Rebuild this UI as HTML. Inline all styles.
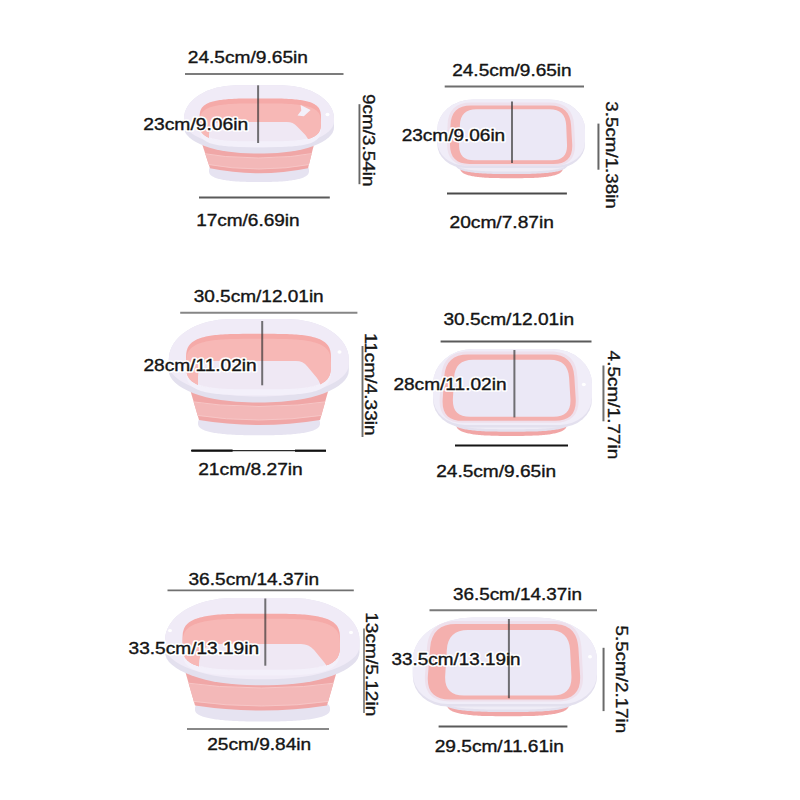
<!DOCTYPE html><html><head><meta charset="utf-8"><style>html,body{margin:0;padding:0;background:#fff;}svg{display:block;}</style></head><body>
<svg width="800" height="800" viewBox="0 0 800 800">
<rect width="800" height="800" fill="#ffffff"/>
<path d="M309.0,170.7 L309.0,171.4 L308.9,172.0 L308.8,172.5 L308.7,172.9 L308.5,173.4 L308.3,173.8 L308.1,174.2 L307.8,174.5 L307.5,174.9 L307.1,175.2 L306.7,175.6 L306.3,175.9 L305.8,176.2 L305.3,176.5 L304.8,176.8 L304.2,177.1 L303.6,177.4 L302.9,177.7 L302.2,177.9 L301.5,178.2 L300.7,178.4 L299.9,178.7 L299.1,178.9 L298.2,179.1 L297.3,179.3 L296.4,179.5 L295.4,179.7 L294.4,179.9 L293.3,180.1 L292.2,180.3 L291.1,180.5 L289.9,180.6 L288.7,180.8 L287.5,180.9 L286.2,181.0 L284.9,181.2 L283.6,181.3 L282.2,181.4 L280.7,181.5 L279.3,181.6 L277.7,181.7 L276.1,181.7 L274.5,181.8 L272.8,181.8 L271.0,181.9 L269.1,181.9 L267.1,182.0 L264.9,182.0 L262.5,182.0 L259.0,182.0 L255.5,182.0 L253.1,182.0 L250.9,182.0 L248.9,181.9 L247.0,181.9 L245.2,181.8 L243.5,181.8 L241.9,181.7 L240.3,181.7 L238.7,181.6 L237.3,181.5 L235.8,181.4 L234.4,181.3 L233.1,181.2 L231.8,181.0 L230.5,180.9 L229.3,180.8 L228.1,180.6 L226.9,180.5 L225.8,180.3 L224.7,180.1 L223.6,179.9 L222.6,179.7 L221.6,179.5 L220.7,179.3 L219.8,179.1 L218.9,178.9 L218.1,178.7 L217.3,178.4 L216.5,178.2 L215.8,177.9 L215.1,177.7 L214.4,177.4 L213.8,177.1 L213.2,176.8 L212.7,176.5 L212.2,176.2 L211.7,175.9 L211.3,175.6 L210.9,175.2 L210.5,174.9 L210.2,174.5 L209.9,174.2 L209.7,173.8 L209.5,173.4 L209.3,172.9 L209.2,172.5 L209.1,172.0 L209.0,171.4 L209.0,170.7 L209.0,169.9 L209.1,169.3 L209.2,168.8 L209.3,168.4 L209.5,167.9 L209.7,167.5 L209.9,167.1 L210.2,166.8 L210.5,166.4 L210.9,166.1 L211.3,165.7 L211.7,165.4 L212.2,165.1 L212.7,164.8 L213.2,164.5 L213.8,164.2 L214.4,163.9 L215.1,163.6 L215.8,163.4 L216.5,163.1 L217.3,162.9 L218.1,162.6 L218.9,162.4 L219.8,162.2 L220.7,162.0 L221.6,161.8 L222.6,161.6 L223.6,161.4 L224.7,161.2 L225.8,161.0 L226.9,160.8 L228.1,160.7 L229.3,160.5 L230.5,160.4 L231.8,160.3 L233.1,160.1 L234.4,160.0 L235.8,159.9 L237.3,159.8 L238.7,159.7 L240.3,159.6 L241.9,159.6 L243.5,159.5 L245.2,159.5 L247.0,159.4 L248.9,159.4 L250.9,159.3 L253.1,159.3 L255.5,159.3 L259.0,159.3 L262.5,159.3 L264.9,159.3 L267.1,159.3 L269.1,159.4 L271.0,159.4 L272.8,159.5 L274.5,159.5 L276.1,159.6 L277.7,159.6 L279.3,159.7 L280.7,159.8 L282.2,159.9 L283.6,160.0 L284.9,160.1 L286.2,160.3 L287.5,160.4 L288.7,160.5 L289.9,160.7 L291.1,160.8 L292.2,161.0 L293.3,161.2 L294.4,161.4 L295.4,161.6 L296.4,161.8 L297.3,162.0 L298.2,162.2 L299.1,162.4 L299.9,162.6 L300.7,162.9 L301.5,163.1 L302.2,163.4 L302.9,163.6 L303.6,163.9 L304.2,164.2 L304.8,164.5 L305.3,164.8 L305.8,165.1 L306.3,165.4 L306.7,165.7 L307.1,166.1 L307.5,166.4 L307.8,166.8 L308.1,167.1 L308.3,167.5 L308.5,167.9 L308.7,168.4 L308.8,168.8 L308.9,169.3 L309.0,169.9 Z" fill="#e6e3f1"/>
<path d="M197,128.5 L318,128.5 L308,168.3 Q259.0,178.3 210,168.3 Z" fill="#f0a7a7"/>
<clipPath id="b1"><path d="M197,128.5 L318,128.5 L308,168.3 Q259.0,178.3 210,168.3 Z"/></clipPath>
<path d="M192,152 Q259.0,164 323,152 L313,164 Q259.0,174 205,164 Z" fill="#f3b8b8" clip-path="url(#b1)"/>
<path d="M192,152 Q259.0,164 323,152 M313,164 Q259.0,174 205,164" fill="none" stroke="#f6c6c6" stroke-width="1" clip-path="url(#b1)"/>
<path d="M236,85.3 L282,85.3 A52,33 0 0 1 334,118.3 L334,127.5 A70,26 0 0 1 264,153.5 L254,153.5 A70,26 0 0 1 184,127.5 L184,118.3 A52,33 0 0 1 236,85.3 Z" fill="#e3e0ee"/>
<path d="M236,85.3 L282,85.3 A52,33 0 0 1 334,118.3 L334,121.5 A70,26 0 0 1 264,147.5 L254,147.5 A70,26 0 0 1 184,121.5 L184,118.3 A52,33 0 0 1 236,85.3 Z" fill="#f0ebf7"/>
<path d="M321.0,125.2 L321.0,128.4 L320.9,129.9 L320.9,131.1 L320.7,132.1 L320.6,133.0 L320.4,133.8 L320.2,134.6 L319.9,135.3 L319.6,136.0 L319.3,136.6 L319.0,137.2 L318.6,137.7 L318.2,138.3 L317.7,138.8 L317.2,139.3 L316.7,139.7 L316.1,140.2 L315.5,140.6 L314.9,141.0 L314.3,141.4 L313.5,141.8 L312.8,142.2 L312.0,142.5 L311.2,142.9 L310.4,143.2 L309.5,143.5 L308.5,143.8 L307.6,144.1 L306.5,144.3 L305.5,144.6 L304.4,144.8 L303.2,145.0 L302.0,145.3 L300.7,145.5 L299.4,145.6 L298.1,145.8 L296.6,146.0 L295.1,146.1 L293.5,146.3 L291.9,146.4 L290.1,146.5 L288.3,146.6 L286.3,146.7 L284.2,146.8 L281.9,146.9 L279.4,146.9 L276.6,146.9 L273.3,147.0 L269.1,147.0 L260.3,147.0 L251.4,147.0 L247.2,147.0 L243.9,146.9 L241.1,146.9 L238.6,146.9 L236.3,146.8 L234.2,146.7 L232.2,146.6 L230.4,146.5 L228.6,146.4 L227.0,146.3 L225.4,146.1 L223.9,146.0 L222.4,145.8 L221.1,145.6 L219.8,145.5 L218.5,145.3 L217.3,145.0 L216.1,144.8 L215.0,144.6 L214.0,144.3 L212.9,144.1 L212.0,143.8 L211.0,143.5 L210.1,143.2 L209.3,142.9 L208.5,142.5 L207.7,142.2 L207.0,141.8 L206.2,141.4 L205.6,141.0 L205.0,140.6 L204.4,140.2 L203.8,139.7 L203.3,139.3 L202.8,138.8 L202.3,138.3 L201.9,137.7 L201.5,137.2 L201.2,136.6 L200.9,136.0 L200.6,135.3 L200.3,134.6 L200.1,133.8 L199.9,133.0 L199.8,132.1 L199.6,131.1 L199.6,129.9 L199.5,128.4 L199.5,125.3 L199.5,122.1 L199.6,120.6 L199.6,119.4 L199.8,118.4 L199.9,117.5 L200.1,116.7 L200.3,115.9 L200.6,115.2 L200.9,114.5 L201.2,113.9 L201.5,113.3 L201.9,112.8 L202.3,112.2 L202.8,111.7 L203.3,111.2 L203.8,110.8 L204.4,110.3 L205.0,109.9 L205.6,109.5 L206.2,109.1 L207.0,108.7 L207.7,108.3 L208.5,108.0 L209.3,107.6 L210.1,107.3 L211.0,107.0 L212.0,106.7 L212.9,106.4 L214.0,106.2 L215.0,105.9 L216.1,105.7 L217.3,105.5 L218.5,105.2 L219.8,105.0 L221.1,104.9 L222.4,104.7 L223.9,104.5 L225.4,104.4 L227.0,104.2 L228.6,104.1 L230.4,104.0 L232.2,103.9 L234.2,103.8 L236.3,103.7 L238.6,103.6 L241.1,103.6 L243.9,103.6 L247.2,103.5 L251.4,103.5 L260.2,103.5 L269.1,103.5 L273.3,103.5 L276.6,103.6 L279.4,103.6 L281.9,103.6 L284.2,103.7 L286.3,103.8 L288.3,103.9 L290.1,104.0 L291.9,104.1 L293.5,104.2 L295.1,104.4 L296.6,104.5 L298.1,104.7 L299.4,104.9 L300.7,105.0 L302.0,105.2 L303.2,105.5 L304.4,105.7 L305.5,105.9 L306.5,106.2 L307.6,106.4 L308.5,106.7 L309.5,107.0 L310.4,107.3 L311.2,107.6 L312.0,108.0 L312.8,108.3 L313.5,108.7 L314.3,109.1 L314.9,109.5 L315.5,109.9 L316.1,110.3 L316.7,110.8 L317.2,111.2 L317.7,111.7 L318.2,112.2 L318.6,112.8 L319.0,113.3 L319.3,113.9 L319.6,114.5 L319.9,115.2 L320.2,115.9 L320.4,116.7 L320.6,117.5 L320.7,118.4 L320.9,119.4 L320.9,120.6 L321.0,122.1 Z" fill="#f3f0fa"/>
<clipPath id="c2"><path d="M321.0,120.2 L321.0,123.4 L320.9,124.9 L320.9,126.1 L320.7,127.1 L320.6,128.0 L320.4,128.8 L320.2,129.6 L319.9,130.3 L319.6,131.0 L319.3,131.6 L319.0,132.2 L318.6,132.7 L318.2,133.3 L317.7,133.8 L317.2,134.3 L316.7,134.7 L316.1,135.2 L315.5,135.6 L314.9,136.0 L314.3,136.4 L313.5,136.8 L312.8,137.2 L312.0,137.5 L311.2,137.9 L310.4,138.2 L309.5,138.5 L308.5,138.8 L307.6,139.1 L306.5,139.3 L305.5,139.6 L304.4,139.8 L303.2,140.0 L302.0,140.3 L300.7,140.5 L299.4,140.6 L298.1,140.8 L296.6,141.0 L295.1,141.1 L293.5,141.3 L291.9,141.4 L290.1,141.5 L288.3,141.6 L286.3,141.7 L284.2,141.8 L281.9,141.9 L279.4,141.9 L276.6,141.9 L273.3,142.0 L269.1,142.0 L260.3,142.0 L251.4,142.0 L247.2,142.0 L243.9,141.9 L241.1,141.9 L238.6,141.9 L236.3,141.8 L234.2,141.7 L232.2,141.6 L230.4,141.5 L228.6,141.4 L227.0,141.3 L225.4,141.1 L223.9,141.0 L222.4,140.8 L221.1,140.6 L219.8,140.5 L218.5,140.3 L217.3,140.0 L216.1,139.8 L215.0,139.6 L214.0,139.3 L212.9,139.1 L212.0,138.8 L211.0,138.5 L210.1,138.2 L209.3,137.9 L208.5,137.5 L207.7,137.2 L207.0,136.8 L206.2,136.4 L205.6,136.0 L205.0,135.6 L204.4,135.2 L203.8,134.7 L203.3,134.3 L202.8,133.8 L202.3,133.3 L201.9,132.7 L201.5,132.2 L201.2,131.6 L200.9,131.0 L200.6,130.3 L200.3,129.6 L200.1,128.8 L199.9,128.0 L199.8,127.1 L199.6,126.1 L199.6,124.9 L199.5,123.4 L199.5,120.3 L199.5,117.1 L199.6,115.6 L199.6,114.4 L199.8,113.4 L199.9,112.5 L200.1,111.7 L200.3,110.9 L200.6,110.2 L200.9,109.5 L201.2,108.9 L201.5,108.3 L201.9,107.8 L202.3,107.2 L202.8,106.7 L203.3,106.2 L203.8,105.8 L204.4,105.3 L205.0,104.9 L205.6,104.5 L206.2,104.1 L207.0,103.7 L207.7,103.3 L208.5,103.0 L209.3,102.6 L210.1,102.3 L211.0,102.0 L212.0,101.7 L212.9,101.4 L214.0,101.2 L215.0,100.9 L216.1,100.7 L217.3,100.5 L218.5,100.2 L219.8,100.0 L221.1,99.9 L222.4,99.7 L223.9,99.5 L225.4,99.4 L227.0,99.2 L228.6,99.1 L230.4,99.0 L232.2,98.9 L234.2,98.8 L236.3,98.7 L238.6,98.6 L241.1,98.6 L243.9,98.6 L247.2,98.5 L251.4,98.5 L260.2,98.5 L269.1,98.5 L273.3,98.5 L276.6,98.6 L279.4,98.6 L281.9,98.6 L284.2,98.7 L286.3,98.8 L288.3,98.9 L290.1,99.0 L291.9,99.1 L293.5,99.2 L295.1,99.4 L296.6,99.5 L298.1,99.7 L299.4,99.9 L300.7,100.0 L302.0,100.2 L303.2,100.5 L304.4,100.7 L305.5,100.9 L306.5,101.2 L307.6,101.4 L308.5,101.7 L309.5,102.0 L310.4,102.3 L311.2,102.6 L312.0,103.0 L312.8,103.3 L313.5,103.7 L314.3,104.1 L314.9,104.5 L315.5,104.9 L316.1,105.3 L316.7,105.8 L317.2,106.2 L317.7,106.7 L318.2,107.2 L318.6,107.8 L319.0,108.3 L319.3,108.9 L319.6,109.5 L319.9,110.2 L320.2,110.9 L320.4,111.7 L320.6,112.5 L320.7,113.4 L320.9,114.4 L320.9,115.6 L321.0,117.1 Z"/></clipPath>
<path d="M321.0,120.2 L321.0,123.4 L320.9,124.9 L320.9,126.1 L320.7,127.1 L320.6,128.0 L320.4,128.8 L320.2,129.6 L319.9,130.3 L319.6,131.0 L319.3,131.6 L319.0,132.2 L318.6,132.7 L318.2,133.3 L317.7,133.8 L317.2,134.3 L316.7,134.7 L316.1,135.2 L315.5,135.6 L314.9,136.0 L314.3,136.4 L313.5,136.8 L312.8,137.2 L312.0,137.5 L311.2,137.9 L310.4,138.2 L309.5,138.5 L308.5,138.8 L307.6,139.1 L306.5,139.3 L305.5,139.6 L304.4,139.8 L303.2,140.0 L302.0,140.3 L300.7,140.5 L299.4,140.6 L298.1,140.8 L296.6,141.0 L295.1,141.1 L293.5,141.3 L291.9,141.4 L290.1,141.5 L288.3,141.6 L286.3,141.7 L284.2,141.8 L281.9,141.9 L279.4,141.9 L276.6,141.9 L273.3,142.0 L269.1,142.0 L260.3,142.0 L251.4,142.0 L247.2,142.0 L243.9,141.9 L241.1,141.9 L238.6,141.9 L236.3,141.8 L234.2,141.7 L232.2,141.6 L230.4,141.5 L228.6,141.4 L227.0,141.3 L225.4,141.1 L223.9,141.0 L222.4,140.8 L221.1,140.6 L219.8,140.5 L218.5,140.3 L217.3,140.0 L216.1,139.8 L215.0,139.6 L214.0,139.3 L212.9,139.1 L212.0,138.8 L211.0,138.5 L210.1,138.2 L209.3,137.9 L208.5,137.5 L207.7,137.2 L207.0,136.8 L206.2,136.4 L205.6,136.0 L205.0,135.6 L204.4,135.2 L203.8,134.7 L203.3,134.3 L202.8,133.8 L202.3,133.3 L201.9,132.7 L201.5,132.2 L201.2,131.6 L200.9,131.0 L200.6,130.3 L200.3,129.6 L200.1,128.8 L199.9,128.0 L199.8,127.1 L199.6,126.1 L199.6,124.9 L199.5,123.4 L199.5,120.3 L199.5,117.1 L199.6,115.6 L199.6,114.4 L199.8,113.4 L199.9,112.5 L200.1,111.7 L200.3,110.9 L200.6,110.2 L200.9,109.5 L201.2,108.9 L201.5,108.3 L201.9,107.8 L202.3,107.2 L202.8,106.7 L203.3,106.2 L203.8,105.8 L204.4,105.3 L205.0,104.9 L205.6,104.5 L206.2,104.1 L207.0,103.7 L207.7,103.3 L208.5,103.0 L209.3,102.6 L210.1,102.3 L211.0,102.0 L212.0,101.7 L212.9,101.4 L214.0,101.2 L215.0,100.9 L216.1,100.7 L217.3,100.5 L218.5,100.2 L219.8,100.0 L221.1,99.9 L222.4,99.7 L223.9,99.5 L225.4,99.4 L227.0,99.2 L228.6,99.1 L230.4,99.0 L232.2,98.9 L234.2,98.8 L236.3,98.7 L238.6,98.6 L241.1,98.6 L243.9,98.6 L247.2,98.5 L251.4,98.5 L260.2,98.5 L269.1,98.5 L273.3,98.5 L276.6,98.6 L279.4,98.6 L281.9,98.6 L284.2,98.7 L286.3,98.8 L288.3,98.9 L290.1,99.0 L291.9,99.1 L293.5,99.2 L295.1,99.4 L296.6,99.5 L298.1,99.7 L299.4,99.9 L300.7,100.0 L302.0,100.2 L303.2,100.5 L304.4,100.7 L305.5,100.9 L306.5,101.2 L307.6,101.4 L308.5,101.7 L309.5,102.0 L310.4,102.3 L311.2,102.6 L312.0,103.0 L312.8,103.3 L313.5,103.7 L314.3,104.1 L314.9,104.5 L315.5,104.9 L316.1,105.3 L316.7,105.8 L317.2,106.2 L317.7,106.7 L318.2,107.2 L318.6,107.8 L319.0,108.3 L319.3,108.9 L319.6,109.5 L319.9,110.2 L320.2,110.9 L320.4,111.7 L320.6,112.5 L320.7,113.4 L320.9,114.4 L320.9,115.6 L321.0,117.1 Z" fill="#f5aaa8"/>
<path d="M321.0,125.2 L321.0,128.4 L320.9,129.9 L320.9,131.1 L320.7,132.1 L320.6,133.0 L320.4,133.8 L320.2,134.6 L319.9,135.3 L319.6,136.0 L319.3,136.6 L319.0,137.2 L318.6,137.7 L318.2,138.3 L317.7,138.8 L317.2,139.3 L316.7,139.7 L316.1,140.2 L315.5,140.6 L314.9,141.0 L314.3,141.4 L313.5,141.8 L312.8,142.2 L312.0,142.5 L311.2,142.9 L310.4,143.2 L309.5,143.5 L308.5,143.8 L307.6,144.1 L306.5,144.3 L305.5,144.6 L304.4,144.8 L303.2,145.0 L302.0,145.3 L300.7,145.5 L299.4,145.6 L298.1,145.8 L296.6,146.0 L295.1,146.1 L293.5,146.3 L291.9,146.4 L290.1,146.5 L288.3,146.6 L286.3,146.7 L284.2,146.8 L281.9,146.9 L279.4,146.9 L276.6,146.9 L273.3,147.0 L269.1,147.0 L260.3,147.0 L251.4,147.0 L247.2,147.0 L243.9,146.9 L241.1,146.9 L238.6,146.9 L236.3,146.8 L234.2,146.7 L232.2,146.6 L230.4,146.5 L228.6,146.4 L227.0,146.3 L225.4,146.1 L223.9,146.0 L222.4,145.8 L221.1,145.6 L219.8,145.5 L218.5,145.3 L217.3,145.0 L216.1,144.8 L215.0,144.6 L214.0,144.3 L212.9,144.1 L212.0,143.8 L211.0,143.5 L210.1,143.2 L209.3,142.9 L208.5,142.5 L207.7,142.2 L207.0,141.8 L206.2,141.4 L205.6,141.0 L205.0,140.6 L204.4,140.2 L203.8,139.7 L203.3,139.3 L202.8,138.8 L202.3,138.3 L201.9,137.7 L201.5,137.2 L201.2,136.6 L200.9,136.0 L200.6,135.3 L200.3,134.6 L200.1,133.8 L199.9,133.0 L199.8,132.1 L199.6,131.1 L199.6,129.9 L199.5,128.4 L199.5,125.3 L199.5,122.1 L199.6,120.6 L199.6,119.4 L199.8,118.4 L199.9,117.5 L200.1,116.7 L200.3,115.9 L200.6,115.2 L200.9,114.5 L201.2,113.9 L201.5,113.3 L201.9,112.8 L202.3,112.2 L202.8,111.7 L203.3,111.2 L203.8,110.8 L204.4,110.3 L205.0,109.9 L205.6,109.5 L206.2,109.1 L207.0,108.7 L207.7,108.3 L208.5,108.0 L209.3,107.6 L210.1,107.3 L211.0,107.0 L212.0,106.7 L212.9,106.4 L214.0,106.2 L215.0,105.9 L216.1,105.7 L217.3,105.5 L218.5,105.2 L219.8,105.0 L221.1,104.9 L222.4,104.7 L223.9,104.5 L225.4,104.4 L227.0,104.2 L228.6,104.1 L230.4,104.0 L232.2,103.9 L234.2,103.8 L236.3,103.7 L238.6,103.6 L241.1,103.6 L243.9,103.6 L247.2,103.5 L251.4,103.5 L260.2,103.5 L269.1,103.5 L273.3,103.5 L276.6,103.6 L279.4,103.6 L281.9,103.6 L284.2,103.7 L286.3,103.8 L288.3,103.9 L290.1,104.0 L291.9,104.1 L293.5,104.2 L295.1,104.4 L296.6,104.5 L298.1,104.7 L299.4,104.9 L300.7,105.0 L302.0,105.2 L303.2,105.5 L304.4,105.7 L305.5,105.9 L306.5,106.2 L307.6,106.4 L308.5,106.7 L309.5,107.0 L310.4,107.3 L311.2,107.6 L312.0,108.0 L312.8,108.3 L313.5,108.7 L314.3,109.1 L314.9,109.5 L315.5,109.9 L316.1,110.3 L316.7,110.8 L317.2,111.2 L317.7,111.7 L318.2,112.2 L318.6,112.8 L319.0,113.3 L319.3,113.9 L319.6,114.5 L319.9,115.2 L320.2,115.9 L320.4,116.7 L320.6,117.5 L320.7,118.4 L320.9,119.4 L320.9,120.6 L321.0,122.1 Z" fill="#f7b8b6" clip-path="url(#c2)"/>
<path d="M212.5,125.5 C214.8,123.2 218.0,122.0 222.0,122.0 L287.0,122.0 C291.0,122.0 294.4,123.5 297.1,126.4 L304.9,134.6 C307.6,137.5 309.0,141.0 309.0,145.0 L309.0,146.0 C309.0,150.0 307.0,152.0 303.0,152.0 L215.0,152.0 C211.0,152.0 209.0,150.0 209.0,146.0 L209.0,135.0 C209.0,131.0 210.2,127.8 212.5,125.5 Z" fill="#efe8f4" clip-path="url(#c2)"/>
<clipPath id="fc2"><path d="M212.5,125.5 C214.8,123.2 218.0,122.0 222.0,122.0 L287.0,122.0 C291.0,122.0 294.4,123.5 297.1,126.4 L304.9,134.6 C307.6,137.5 309.0,141.0 309.0,145.0 L309.0,146.0 C309.0,150.0 307.0,152.0 303.0,152.0 L215.0,152.0 C211.0,152.0 209.0,150.0 209.0,146.0 L209.0,135.0 C209.0,131.0 210.2,127.8 212.5,125.5 Z"/></clipPath>
<path d="M321.0,120.2 L321.0,123.4 L320.9,124.9 L320.9,126.1 L320.7,127.1 L320.6,128.0 L320.4,128.8 L320.2,129.6 L319.9,130.3 L319.6,131.0 L319.3,131.6 L319.0,132.2 L318.6,132.7 L318.2,133.3 L317.7,133.8 L317.2,134.3 L316.7,134.7 L316.1,135.2 L315.5,135.6 L314.9,136.0 L314.3,136.4 L313.5,136.8 L312.8,137.2 L312.0,137.5 L311.2,137.9 L310.4,138.2 L309.5,138.5 L308.5,138.8 L307.6,139.1 L306.5,139.3 L305.5,139.6 L304.4,139.8 L303.2,140.0 L302.0,140.3 L300.7,140.5 L299.4,140.6 L298.1,140.8 L296.6,141.0 L295.1,141.1 L293.5,141.3 L291.9,141.4 L290.1,141.5 L288.3,141.6 L286.3,141.7 L284.2,141.8 L281.9,141.9 L279.4,141.9 L276.6,141.9 L273.3,142.0 L269.1,142.0 L260.3,142.0 L251.4,142.0 L247.2,142.0 L243.9,141.9 L241.1,141.9 L238.6,141.9 L236.3,141.8 L234.2,141.7 L232.2,141.6 L230.4,141.5 L228.6,141.4 L227.0,141.3 L225.4,141.1 L223.9,141.0 L222.4,140.8 L221.1,140.6 L219.8,140.5 L218.5,140.3 L217.3,140.0 L216.1,139.8 L215.0,139.6 L214.0,139.3 L212.9,139.1 L212.0,138.8 L211.0,138.5 L210.1,138.2 L209.3,137.9 L208.5,137.5 L207.7,137.2 L207.0,136.8 L206.2,136.4 L205.6,136.0 L205.0,135.6 L204.4,135.2 L203.8,134.7 L203.3,134.3 L202.8,133.8 L202.3,133.3 L201.9,132.7 L201.5,132.2 L201.2,131.6 L200.9,131.0 L200.6,130.3 L200.3,129.6 L200.1,128.8 L199.9,128.0 L199.8,127.1 L199.6,126.1 L199.6,124.9 L199.5,123.4 L199.5,120.3 L199.5,117.1 L199.6,115.6 L199.6,114.4 L199.8,113.4 L199.9,112.5 L200.1,111.7 L200.3,110.9 L200.6,110.2 L200.9,109.5 L201.2,108.9 L201.5,108.3 L201.9,107.8 L202.3,107.2 L202.8,106.7 L203.3,106.2 L203.8,105.8 L204.4,105.3 L205.0,104.9 L205.6,104.5 L206.2,104.1 L207.0,103.7 L207.7,103.3 L208.5,103.0 L209.3,102.6 L210.1,102.3 L211.0,102.0 L212.0,101.7 L212.9,101.4 L214.0,101.2 L215.0,100.9 L216.1,100.7 L217.3,100.5 L218.5,100.2 L219.8,100.0 L221.1,99.9 L222.4,99.7 L223.9,99.5 L225.4,99.4 L227.0,99.2 L228.6,99.1 L230.4,99.0 L232.2,98.9 L234.2,98.8 L236.3,98.7 L238.6,98.6 L241.1,98.6 L243.9,98.6 L247.2,98.5 L251.4,98.5 L260.2,98.5 L269.1,98.5 L273.3,98.5 L276.6,98.6 L279.4,98.6 L281.9,98.6 L284.2,98.7 L286.3,98.8 L288.3,98.9 L290.1,99.0 L291.9,99.1 L293.5,99.2 L295.1,99.4 L296.6,99.5 L298.1,99.7 L299.4,99.9 L300.7,100.0 L302.0,100.2 L303.2,100.5 L304.4,100.7 L305.5,100.9 L306.5,101.2 L307.6,101.4 L308.5,101.7 L309.5,102.0 L310.4,102.3 L311.2,102.6 L312.0,103.0 L312.8,103.3 L313.5,103.7 L314.3,104.1 L314.9,104.5 L315.5,104.9 L316.1,105.3 L316.7,105.8 L317.2,106.2 L317.7,106.7 L318.2,107.2 L318.6,107.8 L319.0,108.3 L319.3,108.9 L319.6,109.5 L319.9,110.2 L320.2,110.9 L320.4,111.7 L320.6,112.5 L320.7,113.4 L320.9,114.4 L320.9,115.6 L321.0,117.1 Z" fill="none" stroke="#f3f0fa" stroke-width="1.4" clip-path="url(#fc2)"/>
<path d="M300.6,105 L310.6,110 L303.8,116.3 L297.5,115.6 L301.3,110.6 Z" fill="#f3f0fa" clip-path="url(#c2)"/>
<path d="M320.0,423.1 L320.0,424.0 L319.9,424.6 L319.8,425.1 L319.6,425.6 L319.4,426.1 L319.2,426.5 L318.9,426.9 L318.5,427.3 L318.1,427.7 L317.7,428.1 L317.2,428.4 L316.7,428.8 L316.1,429.1 L315.5,429.4 L314.8,429.8 L314.1,430.1 L313.4,430.4 L312.6,430.7 L311.7,431.0 L310.8,431.2 L309.9,431.5 L308.9,431.7 L307.9,432.0 L306.8,432.2 L305.7,432.5 L304.6,432.7 L303.4,432.9 L302.1,433.1 L300.9,433.3 L299.5,433.5 L298.2,433.6 L296.7,433.8 L295.3,434.0 L293.8,434.1 L292.2,434.3 L290.6,434.4 L289.0,434.5 L287.3,434.6 L285.5,434.7 L283.7,434.8 L281.8,434.9 L279.9,435.0 L277.9,435.1 L275.8,435.1 L273.6,435.2 L271.3,435.2 L268.9,435.3 L266.3,435.3 L263.3,435.3 L259.0,435.3 L254.7,435.3 L251.7,435.3 L249.1,435.3 L246.7,435.2 L244.4,435.2 L242.2,435.1 L240.1,435.1 L238.1,435.0 L236.2,434.9 L234.3,434.8 L232.5,434.7 L230.7,434.6 L229.0,434.5 L227.4,434.4 L225.8,434.3 L224.2,434.1 L222.7,434.0 L221.3,433.8 L219.8,433.6 L218.5,433.5 L217.1,433.3 L215.9,433.1 L214.6,432.9 L213.4,432.7 L212.3,432.5 L211.2,432.2 L210.1,432.0 L209.1,431.7 L208.1,431.5 L207.2,431.2 L206.3,431.0 L205.4,430.7 L204.6,430.4 L203.9,430.1 L203.2,429.8 L202.5,429.4 L201.9,429.1 L201.3,428.8 L200.8,428.4 L200.3,428.1 L199.9,427.7 L199.5,427.3 L199.1,426.9 L198.8,426.5 L198.6,426.1 L198.4,425.6 L198.2,425.1 L198.1,424.6 L198.0,424.0 L198.0,423.2 L198.0,422.3 L198.1,421.7 L198.2,421.2 L198.4,420.7 L198.6,420.2 L198.8,419.8 L199.1,419.4 L199.5,419.0 L199.9,418.6 L200.3,418.2 L200.8,417.9 L201.3,417.5 L201.9,417.2 L202.5,416.9 L203.2,416.5 L203.9,416.2 L204.6,415.9 L205.4,415.6 L206.3,415.3 L207.2,415.1 L208.1,414.8 L209.1,414.6 L210.1,414.3 L211.2,414.1 L212.3,413.8 L213.4,413.6 L214.6,413.4 L215.9,413.2 L217.1,413.0 L218.5,412.8 L219.8,412.7 L221.3,412.5 L222.7,412.3 L224.2,412.2 L225.8,412.0 L227.4,411.9 L229.0,411.8 L230.7,411.7 L232.5,411.6 L234.3,411.5 L236.2,411.4 L238.1,411.3 L240.1,411.2 L242.2,411.2 L244.4,411.1 L246.7,411.1 L249.1,411.0 L251.7,411.0 L254.7,411.0 L259.0,411.0 L263.3,411.0 L266.3,411.0 L268.9,411.0 L271.3,411.1 L273.6,411.1 L275.8,411.2 L277.9,411.2 L279.9,411.3 L281.8,411.4 L283.7,411.5 L285.5,411.6 L287.3,411.7 L289.0,411.8 L290.6,411.9 L292.2,412.0 L293.8,412.2 L295.3,412.3 L296.7,412.5 L298.2,412.7 L299.5,412.8 L300.9,413.0 L302.1,413.2 L303.4,413.4 L304.6,413.6 L305.7,413.8 L306.8,414.1 L307.9,414.3 L308.9,414.6 L309.9,414.8 L310.8,415.1 L311.7,415.3 L312.6,415.6 L313.4,415.9 L314.1,416.2 L314.8,416.5 L315.5,416.9 L316.1,417.2 L316.7,417.5 L317.2,417.9 L317.7,418.2 L318.1,418.6 L318.5,419.0 L318.9,419.4 L319.2,419.8 L319.4,420.2 L319.6,420.7 L319.8,421.2 L319.9,421.7 L320.0,422.3 Z" fill="#e6e3f1"/>
<path d="M186.5,377.5 L332,377.5 L320,420 Q258.8,430 199,420 Z" fill="#f0a7a7"/>
<clipPath id="b3"><path d="M186.5,377.5 L332,377.5 L320,420 Q258.8,430 199,420 Z"/></clipPath>
<path d="M181.5,400.5 Q258.8,412.5 337,400.5 L325,415 Q258.8,425 194,415 Z" fill="#f3b8b8" clip-path="url(#b3)"/>
<path d="M181.5,400.5 Q258.8,412.5 337,400.5 M325,415 Q258.8,425 194,415" fill="none" stroke="#f6c6c6" stroke-width="1" clip-path="url(#b3)"/>
<path d="M230.8,319 L286.8,319 A62,40 0 0 1 348.8,359 L348.8,370.5 A84,32 0 0 1 264.8,402.5 L252.8,402.5 A84,32 0 0 1 168.8,370.5 L168.8,359 A62,40 0 0 1 230.8,319 Z" fill="#e3e0ee"/>
<path d="M230.8,319 L286.8,319 A62,40 0 0 1 348.8,359 L348.8,364.5 A84,32 0 0 1 264.8,396.5 L252.8,396.5 A84,32 0 0 1 168.8,364.5 L168.8,359 A62,40 0 0 1 230.8,319 Z" fill="#f0ebf7"/>
<path d="M331.0,366.9 L331.0,371.0 L330.9,372.9 L330.8,374.5 L330.7,375.8 L330.5,376.9 L330.3,378.0 L330.0,379.0 L329.7,379.9 L329.4,380.7 L329.0,381.5 L328.6,382.3 L328.1,383.0 L327.6,383.7 L327.1,384.4 L326.5,385.0 L325.9,385.6 L325.2,386.2 L324.5,386.8 L323.7,387.3 L322.9,387.8 L322.1,388.3 L321.2,388.8 L320.3,389.2 L319.3,389.7 L318.3,390.1 L317.2,390.5 L316.1,390.9 L315.0,391.2 L313.7,391.6 L312.5,391.9 L311.1,392.2 L309.8,392.5 L308.3,392.8 L306.8,393.0 L305.3,393.3 L303.6,393.5 L301.9,393.7 L300.1,393.9 L298.2,394.1 L296.3,394.2 L294.2,394.4 L292.0,394.5 L289.6,394.6 L287.1,394.7 L284.4,394.8 L281.4,394.9 L278.0,394.9 L274.1,395.0 L269.1,395.0 L258.5,395.0 L247.9,395.0 L242.9,395.0 L239.0,394.9 L235.6,394.9 L232.6,394.8 L229.9,394.7 L227.4,394.6 L225.0,394.5 L222.8,394.4 L220.7,394.2 L218.8,394.1 L216.9,393.9 L215.1,393.7 L213.4,393.5 L211.7,393.3 L210.2,393.0 L208.7,392.8 L207.2,392.5 L205.9,392.2 L204.5,391.9 L203.3,391.6 L202.0,391.2 L200.9,390.9 L199.8,390.5 L198.7,390.1 L197.7,389.7 L196.7,389.2 L195.8,388.8 L194.9,388.3 L194.1,387.8 L193.3,387.3 L192.5,386.8 L191.8,386.2 L191.1,385.6 L190.5,385.0 L189.9,384.4 L189.4,383.7 L188.9,383.0 L188.4,382.3 L188.0,381.5 L187.6,380.7 L187.3,379.9 L187.0,379.0 L186.7,378.0 L186.5,376.9 L186.3,375.8 L186.2,374.5 L186.1,372.9 L186.0,371.0 L186.0,366.9 L186.0,362.8 L186.1,360.9 L186.2,359.3 L186.3,358.0 L186.5,356.9 L186.7,355.8 L187.0,354.8 L187.3,353.9 L187.6,353.1 L188.0,352.3 L188.4,351.5 L188.9,350.8 L189.4,350.1 L189.9,349.4 L190.5,348.8 L191.1,348.2 L191.8,347.6 L192.5,347.0 L193.3,346.5 L194.1,346.0 L194.9,345.5 L195.8,345.0 L196.7,344.6 L197.7,344.1 L198.7,343.7 L199.8,343.3 L200.9,342.9 L202.0,342.6 L203.3,342.2 L204.5,341.9 L205.9,341.6 L207.2,341.3 L208.7,341.0 L210.2,340.8 L211.7,340.5 L213.4,340.3 L215.1,340.1 L216.9,339.9 L218.8,339.7 L220.7,339.6 L222.8,339.4 L225.0,339.3 L227.4,339.2 L229.9,339.1 L232.6,339.0 L235.6,338.9 L239.0,338.9 L242.9,338.8 L247.9,338.8 L258.5,338.8 L269.1,338.8 L274.1,338.8 L278.0,338.9 L281.4,338.9 L284.4,339.0 L287.1,339.1 L289.6,339.2 L292.0,339.3 L294.2,339.4 L296.3,339.6 L298.2,339.7 L300.1,339.9 L301.9,340.1 L303.6,340.3 L305.3,340.5 L306.8,340.8 L308.3,341.0 L309.8,341.3 L311.1,341.6 L312.5,341.9 L313.7,342.2 L315.0,342.6 L316.1,342.9 L317.2,343.3 L318.3,343.7 L319.3,344.1 L320.3,344.6 L321.2,345.0 L322.1,345.5 L322.9,346.0 L323.7,346.5 L324.5,347.0 L325.2,347.6 L325.9,348.2 L326.5,348.8 L327.1,349.4 L327.6,350.1 L328.1,350.8 L328.6,351.5 L329.0,352.3 L329.4,353.1 L329.7,353.9 L330.0,354.8 L330.3,355.8 L330.5,356.9 L330.7,358.0 L330.8,359.3 L330.9,360.9 L331.0,362.8 Z" fill="#f3f0fa"/>
<clipPath id="c4"><path d="M331.0,361.9 L331.0,366.0 L330.9,367.9 L330.8,369.5 L330.7,370.8 L330.5,371.9 L330.3,373.0 L330.0,374.0 L329.7,374.9 L329.4,375.7 L329.0,376.5 L328.6,377.3 L328.1,378.0 L327.6,378.7 L327.1,379.4 L326.5,380.0 L325.9,380.6 L325.2,381.2 L324.5,381.8 L323.7,382.3 L322.9,382.8 L322.1,383.3 L321.2,383.8 L320.3,384.2 L319.3,384.7 L318.3,385.1 L317.2,385.5 L316.1,385.9 L315.0,386.2 L313.7,386.6 L312.5,386.9 L311.1,387.2 L309.8,387.5 L308.3,387.8 L306.8,388.0 L305.3,388.3 L303.6,388.5 L301.9,388.7 L300.1,388.9 L298.2,389.1 L296.3,389.2 L294.2,389.4 L292.0,389.5 L289.6,389.6 L287.1,389.7 L284.4,389.8 L281.4,389.9 L278.0,389.9 L274.1,390.0 L269.1,390.0 L258.5,390.0 L247.9,390.0 L242.9,390.0 L239.0,389.9 L235.6,389.9 L232.6,389.8 L229.9,389.7 L227.4,389.6 L225.0,389.5 L222.8,389.4 L220.7,389.2 L218.8,389.1 L216.9,388.9 L215.1,388.7 L213.4,388.5 L211.7,388.3 L210.2,388.0 L208.7,387.8 L207.2,387.5 L205.9,387.2 L204.5,386.9 L203.3,386.6 L202.0,386.2 L200.9,385.9 L199.8,385.5 L198.7,385.1 L197.7,384.7 L196.7,384.2 L195.8,383.8 L194.9,383.3 L194.1,382.8 L193.3,382.3 L192.5,381.8 L191.8,381.2 L191.1,380.6 L190.5,380.0 L189.9,379.4 L189.4,378.7 L188.9,378.0 L188.4,377.3 L188.0,376.5 L187.6,375.7 L187.3,374.9 L187.0,374.0 L186.7,373.0 L186.5,371.9 L186.3,370.8 L186.2,369.5 L186.1,367.9 L186.0,366.0 L186.0,361.9 L186.0,357.8 L186.1,355.9 L186.2,354.3 L186.3,353.0 L186.5,351.9 L186.7,350.8 L187.0,349.8 L187.3,348.9 L187.6,348.1 L188.0,347.3 L188.4,346.5 L188.9,345.8 L189.4,345.1 L189.9,344.4 L190.5,343.8 L191.1,343.2 L191.8,342.6 L192.5,342.0 L193.3,341.5 L194.1,341.0 L194.9,340.5 L195.8,340.0 L196.7,339.6 L197.7,339.1 L198.7,338.7 L199.8,338.3 L200.9,337.9 L202.0,337.6 L203.3,337.2 L204.5,336.9 L205.9,336.6 L207.2,336.3 L208.7,336.0 L210.2,335.8 L211.7,335.5 L213.4,335.3 L215.1,335.1 L216.9,334.9 L218.8,334.7 L220.7,334.6 L222.8,334.4 L225.0,334.3 L227.4,334.2 L229.9,334.1 L232.6,334.0 L235.6,333.9 L239.0,333.9 L242.9,333.8 L247.9,333.8 L258.5,333.8 L269.1,333.8 L274.1,333.8 L278.0,333.9 L281.4,333.9 L284.4,334.0 L287.1,334.1 L289.6,334.2 L292.0,334.3 L294.2,334.4 L296.3,334.6 L298.2,334.7 L300.1,334.9 L301.9,335.1 L303.6,335.3 L305.3,335.5 L306.8,335.8 L308.3,336.0 L309.8,336.3 L311.1,336.6 L312.5,336.9 L313.7,337.2 L315.0,337.6 L316.1,337.9 L317.2,338.3 L318.3,338.7 L319.3,339.1 L320.3,339.6 L321.2,340.0 L322.1,340.5 L322.9,341.0 L323.7,341.5 L324.5,342.0 L325.2,342.6 L325.9,343.2 L326.5,343.8 L327.1,344.4 L327.6,345.1 L328.1,345.8 L328.6,346.5 L329.0,347.3 L329.4,348.1 L329.7,348.9 L330.0,349.8 L330.3,350.8 L330.5,351.9 L330.7,353.0 L330.8,354.3 L330.9,355.9 L331.0,357.8 Z"/></clipPath>
<path d="M331.0,361.9 L331.0,366.0 L330.9,367.9 L330.8,369.5 L330.7,370.8 L330.5,371.9 L330.3,373.0 L330.0,374.0 L329.7,374.9 L329.4,375.7 L329.0,376.5 L328.6,377.3 L328.1,378.0 L327.6,378.7 L327.1,379.4 L326.5,380.0 L325.9,380.6 L325.2,381.2 L324.5,381.8 L323.7,382.3 L322.9,382.8 L322.1,383.3 L321.2,383.8 L320.3,384.2 L319.3,384.7 L318.3,385.1 L317.2,385.5 L316.1,385.9 L315.0,386.2 L313.7,386.6 L312.5,386.9 L311.1,387.2 L309.8,387.5 L308.3,387.8 L306.8,388.0 L305.3,388.3 L303.6,388.5 L301.9,388.7 L300.1,388.9 L298.2,389.1 L296.3,389.2 L294.2,389.4 L292.0,389.5 L289.6,389.6 L287.1,389.7 L284.4,389.8 L281.4,389.9 L278.0,389.9 L274.1,390.0 L269.1,390.0 L258.5,390.0 L247.9,390.0 L242.9,390.0 L239.0,389.9 L235.6,389.9 L232.6,389.8 L229.9,389.7 L227.4,389.6 L225.0,389.5 L222.8,389.4 L220.7,389.2 L218.8,389.1 L216.9,388.9 L215.1,388.7 L213.4,388.5 L211.7,388.3 L210.2,388.0 L208.7,387.8 L207.2,387.5 L205.9,387.2 L204.5,386.9 L203.3,386.6 L202.0,386.2 L200.9,385.9 L199.8,385.5 L198.7,385.1 L197.7,384.7 L196.7,384.2 L195.8,383.8 L194.9,383.3 L194.1,382.8 L193.3,382.3 L192.5,381.8 L191.8,381.2 L191.1,380.6 L190.5,380.0 L189.9,379.4 L189.4,378.7 L188.9,378.0 L188.4,377.3 L188.0,376.5 L187.6,375.7 L187.3,374.9 L187.0,374.0 L186.7,373.0 L186.5,371.9 L186.3,370.8 L186.2,369.5 L186.1,367.9 L186.0,366.0 L186.0,361.9 L186.0,357.8 L186.1,355.9 L186.2,354.3 L186.3,353.0 L186.5,351.9 L186.7,350.8 L187.0,349.8 L187.3,348.9 L187.6,348.1 L188.0,347.3 L188.4,346.5 L188.9,345.8 L189.4,345.1 L189.9,344.4 L190.5,343.8 L191.1,343.2 L191.8,342.6 L192.5,342.0 L193.3,341.5 L194.1,341.0 L194.9,340.5 L195.8,340.0 L196.7,339.6 L197.7,339.1 L198.7,338.7 L199.8,338.3 L200.9,337.9 L202.0,337.6 L203.3,337.2 L204.5,336.9 L205.9,336.6 L207.2,336.3 L208.7,336.0 L210.2,335.8 L211.7,335.5 L213.4,335.3 L215.1,335.1 L216.9,334.9 L218.8,334.7 L220.7,334.6 L222.8,334.4 L225.0,334.3 L227.4,334.2 L229.9,334.1 L232.6,334.0 L235.6,333.9 L239.0,333.9 L242.9,333.8 L247.9,333.8 L258.5,333.8 L269.1,333.8 L274.1,333.8 L278.0,333.9 L281.4,333.9 L284.4,334.0 L287.1,334.1 L289.6,334.2 L292.0,334.3 L294.2,334.4 L296.3,334.6 L298.2,334.7 L300.1,334.9 L301.9,335.1 L303.6,335.3 L305.3,335.5 L306.8,335.8 L308.3,336.0 L309.8,336.3 L311.1,336.6 L312.5,336.9 L313.7,337.2 L315.0,337.6 L316.1,337.9 L317.2,338.3 L318.3,338.7 L319.3,339.1 L320.3,339.6 L321.2,340.0 L322.1,340.5 L322.9,341.0 L323.7,341.5 L324.5,342.0 L325.2,342.6 L325.9,343.2 L326.5,343.8 L327.1,344.4 L327.6,345.1 L328.1,345.8 L328.6,346.5 L329.0,347.3 L329.4,348.1 L329.7,348.9 L330.0,349.8 L330.3,350.8 L330.5,351.9 L330.7,353.0 L330.8,354.3 L330.9,355.9 L331.0,357.8 Z" fill="#f5aaa8"/>
<path d="M331.0,366.9 L331.0,371.0 L330.9,372.9 L330.8,374.5 L330.7,375.8 L330.5,376.9 L330.3,378.0 L330.0,379.0 L329.7,379.9 L329.4,380.7 L329.0,381.5 L328.6,382.3 L328.1,383.0 L327.6,383.7 L327.1,384.4 L326.5,385.0 L325.9,385.6 L325.2,386.2 L324.5,386.8 L323.7,387.3 L322.9,387.8 L322.1,388.3 L321.2,388.8 L320.3,389.2 L319.3,389.7 L318.3,390.1 L317.2,390.5 L316.1,390.9 L315.0,391.2 L313.7,391.6 L312.5,391.9 L311.1,392.2 L309.8,392.5 L308.3,392.8 L306.8,393.0 L305.3,393.3 L303.6,393.5 L301.9,393.7 L300.1,393.9 L298.2,394.1 L296.3,394.2 L294.2,394.4 L292.0,394.5 L289.6,394.6 L287.1,394.7 L284.4,394.8 L281.4,394.9 L278.0,394.9 L274.1,395.0 L269.1,395.0 L258.5,395.0 L247.9,395.0 L242.9,395.0 L239.0,394.9 L235.6,394.9 L232.6,394.8 L229.9,394.7 L227.4,394.6 L225.0,394.5 L222.8,394.4 L220.7,394.2 L218.8,394.1 L216.9,393.9 L215.1,393.7 L213.4,393.5 L211.7,393.3 L210.2,393.0 L208.7,392.8 L207.2,392.5 L205.9,392.2 L204.5,391.9 L203.3,391.6 L202.0,391.2 L200.9,390.9 L199.8,390.5 L198.7,390.1 L197.7,389.7 L196.7,389.2 L195.8,388.8 L194.9,388.3 L194.1,387.8 L193.3,387.3 L192.5,386.8 L191.8,386.2 L191.1,385.6 L190.5,385.0 L189.9,384.4 L189.4,383.7 L188.9,383.0 L188.4,382.3 L188.0,381.5 L187.6,380.7 L187.3,379.9 L187.0,379.0 L186.7,378.0 L186.5,376.9 L186.3,375.8 L186.2,374.5 L186.1,372.9 L186.0,371.0 L186.0,366.9 L186.0,362.8 L186.1,360.9 L186.2,359.3 L186.3,358.0 L186.5,356.9 L186.7,355.8 L187.0,354.8 L187.3,353.9 L187.6,353.1 L188.0,352.3 L188.4,351.5 L188.9,350.8 L189.4,350.1 L189.9,349.4 L190.5,348.8 L191.1,348.2 L191.8,347.6 L192.5,347.0 L193.3,346.5 L194.1,346.0 L194.9,345.5 L195.8,345.0 L196.7,344.6 L197.7,344.1 L198.7,343.7 L199.8,343.3 L200.9,342.9 L202.0,342.6 L203.3,342.2 L204.5,341.9 L205.9,341.6 L207.2,341.3 L208.7,341.0 L210.2,340.8 L211.7,340.5 L213.4,340.3 L215.1,340.1 L216.9,339.9 L218.8,339.7 L220.7,339.6 L222.8,339.4 L225.0,339.3 L227.4,339.2 L229.9,339.1 L232.6,339.0 L235.6,338.9 L239.0,338.9 L242.9,338.8 L247.9,338.8 L258.5,338.8 L269.1,338.8 L274.1,338.8 L278.0,338.9 L281.4,338.9 L284.4,339.0 L287.1,339.1 L289.6,339.2 L292.0,339.3 L294.2,339.4 L296.3,339.6 L298.2,339.7 L300.1,339.9 L301.9,340.1 L303.6,340.3 L305.3,340.5 L306.8,340.8 L308.3,341.0 L309.8,341.3 L311.1,341.6 L312.5,341.9 L313.7,342.2 L315.0,342.6 L316.1,342.9 L317.2,343.3 L318.3,343.7 L319.3,344.1 L320.3,344.6 L321.2,345.0 L322.1,345.5 L322.9,346.0 L323.7,346.5 L324.5,347.0 L325.2,347.6 L325.9,348.2 L326.5,348.8 L327.1,349.4 L327.6,350.1 L328.1,350.8 L328.6,351.5 L329.0,352.3 L329.4,353.1 L329.7,353.9 L330.0,354.8 L330.3,355.8 L330.5,356.9 L330.7,358.0 L330.8,359.3 L330.9,360.9 L331.0,362.8 Z" fill="#f7b8b6" clip-path="url(#c4)"/>
<path d="M202.0,365.5 C204.7,362.5 208.3,361.0 213.0,361.0 L296.0,361.0 C300.7,361.0 304.5,362.8 307.4,366.4 L316.6,377.6 C319.5,381.2 321.0,385.3 321.0,390.0 L321.0,391.0 C321.0,395.7 318.7,398.0 314.0,398.0 L205.0,398.0 C200.3,398.0 198.0,395.7 198.0,391.0 L198.0,377.0 C198.0,372.3 199.3,368.5 202.0,365.5 Z" fill="#efe8f4" clip-path="url(#c4)"/>
<clipPath id="fc4"><path d="M202.0,365.5 C204.7,362.5 208.3,361.0 213.0,361.0 L296.0,361.0 C300.7,361.0 304.5,362.8 307.4,366.4 L316.6,377.6 C319.5,381.2 321.0,385.3 321.0,390.0 L321.0,391.0 C321.0,395.7 318.7,398.0 314.0,398.0 L205.0,398.0 C200.3,398.0 198.0,395.7 198.0,391.0 L198.0,377.0 C198.0,372.3 199.3,368.5 202.0,365.5 Z"/></clipPath>
<path d="M331.0,361.9 L331.0,366.0 L330.9,367.9 L330.8,369.5 L330.7,370.8 L330.5,371.9 L330.3,373.0 L330.0,374.0 L329.7,374.9 L329.4,375.7 L329.0,376.5 L328.6,377.3 L328.1,378.0 L327.6,378.7 L327.1,379.4 L326.5,380.0 L325.9,380.6 L325.2,381.2 L324.5,381.8 L323.7,382.3 L322.9,382.8 L322.1,383.3 L321.2,383.8 L320.3,384.2 L319.3,384.7 L318.3,385.1 L317.2,385.5 L316.1,385.9 L315.0,386.2 L313.7,386.6 L312.5,386.9 L311.1,387.2 L309.8,387.5 L308.3,387.8 L306.8,388.0 L305.3,388.3 L303.6,388.5 L301.9,388.7 L300.1,388.9 L298.2,389.1 L296.3,389.2 L294.2,389.4 L292.0,389.5 L289.6,389.6 L287.1,389.7 L284.4,389.8 L281.4,389.9 L278.0,389.9 L274.1,390.0 L269.1,390.0 L258.5,390.0 L247.9,390.0 L242.9,390.0 L239.0,389.9 L235.6,389.9 L232.6,389.8 L229.9,389.7 L227.4,389.6 L225.0,389.5 L222.8,389.4 L220.7,389.2 L218.8,389.1 L216.9,388.9 L215.1,388.7 L213.4,388.5 L211.7,388.3 L210.2,388.0 L208.7,387.8 L207.2,387.5 L205.9,387.2 L204.5,386.9 L203.3,386.6 L202.0,386.2 L200.9,385.9 L199.8,385.5 L198.7,385.1 L197.7,384.7 L196.7,384.2 L195.8,383.8 L194.9,383.3 L194.1,382.8 L193.3,382.3 L192.5,381.8 L191.8,381.2 L191.1,380.6 L190.5,380.0 L189.9,379.4 L189.4,378.7 L188.9,378.0 L188.4,377.3 L188.0,376.5 L187.6,375.7 L187.3,374.9 L187.0,374.0 L186.7,373.0 L186.5,371.9 L186.3,370.8 L186.2,369.5 L186.1,367.9 L186.0,366.0 L186.0,361.9 L186.0,357.8 L186.1,355.9 L186.2,354.3 L186.3,353.0 L186.5,351.9 L186.7,350.8 L187.0,349.8 L187.3,348.9 L187.6,348.1 L188.0,347.3 L188.4,346.5 L188.9,345.8 L189.4,345.1 L189.9,344.4 L190.5,343.8 L191.1,343.2 L191.8,342.6 L192.5,342.0 L193.3,341.5 L194.1,341.0 L194.9,340.5 L195.8,340.0 L196.7,339.6 L197.7,339.1 L198.7,338.7 L199.8,338.3 L200.9,337.9 L202.0,337.6 L203.3,337.2 L204.5,336.9 L205.9,336.6 L207.2,336.3 L208.7,336.0 L210.2,335.8 L211.7,335.5 L213.4,335.3 L215.1,335.1 L216.9,334.9 L218.8,334.7 L220.7,334.6 L222.8,334.4 L225.0,334.3 L227.4,334.2 L229.9,334.1 L232.6,334.0 L235.6,333.9 L239.0,333.9 L242.9,333.8 L247.9,333.8 L258.5,333.8 L269.1,333.8 L274.1,333.8 L278.0,333.9 L281.4,333.9 L284.4,334.0 L287.1,334.1 L289.6,334.2 L292.0,334.3 L294.2,334.4 L296.3,334.6 L298.2,334.7 L300.1,334.9 L301.9,335.1 L303.6,335.3 L305.3,335.5 L306.8,335.8 L308.3,336.0 L309.8,336.3 L311.1,336.6 L312.5,336.9 L313.7,337.2 L315.0,337.6 L316.1,337.9 L317.2,338.3 L318.3,338.7 L319.3,339.1 L320.3,339.6 L321.2,340.0 L322.1,340.5 L322.9,341.0 L323.7,341.5 L324.5,342.0 L325.2,342.6 L325.9,343.2 L326.5,343.8 L327.1,344.4 L327.6,345.1 L328.1,345.8 L328.6,346.5 L329.0,347.3 L329.4,348.1 L329.7,348.9 L330.0,349.8 L330.3,350.8 L330.5,351.9 L330.7,353.0 L330.8,354.3 L330.9,355.9 L331.0,357.8 Z" fill="none" stroke="#f3f0fa" stroke-width="1.4" clip-path="url(#fc4)"/>
<path d="M330.0,709.0 L330.0,709.9 L329.9,710.5 L329.8,711.0 L329.6,711.5 L329.4,712.0 L329.1,712.4 L328.7,712.9 L328.4,713.3 L327.9,713.7 L327.4,714.1 L326.9,714.4 L326.3,714.8 L325.7,715.1 L325.0,715.5 L324.3,715.8 L323.5,716.1 L322.6,716.4 L321.8,716.7 L320.8,717.0 L319.8,717.3 L318.8,717.6 L317.7,717.8 L316.6,718.1 L315.4,718.3 L314.2,718.6 L312.9,718.8 L311.6,719.0 L310.2,719.2 L308.8,719.4 L307.4,719.6 L305.8,719.8 L304.3,720.0 L302.7,720.1 L301.0,720.3 L299.3,720.4 L297.5,720.6 L295.7,720.7 L293.8,720.8 L291.9,720.9 L289.9,721.0 L287.8,721.1 L285.6,721.2 L283.4,721.3 L281.1,721.3 L278.7,721.4 L276.2,721.4 L273.5,721.5 L270.5,721.5 L267.2,721.5 L262.5,721.5 L257.8,721.5 L254.5,721.5 L251.5,721.5 L248.8,721.4 L246.3,721.4 L243.9,721.3 L241.6,721.3 L239.4,721.2 L237.2,721.1 L235.1,721.0 L233.1,720.9 L231.2,720.8 L229.3,720.7 L227.5,720.6 L225.7,720.4 L224.0,720.3 L222.3,720.1 L220.7,720.0 L219.2,719.8 L217.6,719.6 L216.2,719.4 L214.8,719.2 L213.4,719.0 L212.1,718.8 L210.8,718.6 L209.6,718.3 L208.4,718.1 L207.3,717.8 L206.2,717.6 L205.2,717.3 L204.2,717.0 L203.2,716.7 L202.4,716.4 L201.5,716.1 L200.7,715.8 L200.0,715.5 L199.3,715.1 L198.7,714.8 L198.1,714.4 L197.6,714.1 L197.1,713.7 L196.6,713.3 L196.3,712.9 L195.9,712.4 L195.6,712.0 L195.4,711.5 L195.2,711.0 L195.1,710.5 L195.0,709.9 L195.0,709.0 L195.0,708.1 L195.1,707.5 L195.2,707.0 L195.4,706.5 L195.6,706.0 L195.9,705.6 L196.3,705.1 L196.6,704.7 L197.1,704.3 L197.6,703.9 L198.1,703.6 L198.7,703.2 L199.3,702.9 L200.0,702.5 L200.7,702.2 L201.5,701.9 L202.4,701.6 L203.2,701.3 L204.2,701.0 L205.2,700.7 L206.2,700.4 L207.3,700.2 L208.4,699.9 L209.6,699.7 L210.8,699.4 L212.1,699.2 L213.4,699.0 L214.8,698.8 L216.2,698.6 L217.6,698.4 L219.2,698.2 L220.7,698.0 L222.3,697.9 L224.0,697.7 L225.7,697.6 L227.5,697.4 L229.3,697.3 L231.2,697.2 L233.1,697.1 L235.1,697.0 L237.2,696.9 L239.4,696.8 L241.6,696.7 L243.9,696.7 L246.3,696.6 L248.8,696.6 L251.5,696.5 L254.5,696.5 L257.8,696.5 L262.5,696.5 L267.2,696.5 L270.5,696.5 L273.5,696.5 L276.2,696.6 L278.7,696.6 L281.1,696.7 L283.4,696.7 L285.6,696.8 L287.8,696.9 L289.9,697.0 L291.9,697.1 L293.8,697.2 L295.7,697.3 L297.5,697.4 L299.3,697.6 L301.0,697.7 L302.7,697.9 L304.3,698.0 L305.8,698.2 L307.4,698.4 L308.8,698.6 L310.2,698.8 L311.6,699.0 L312.9,699.2 L314.2,699.4 L315.4,699.7 L316.6,699.9 L317.7,700.2 L318.8,700.4 L319.8,700.7 L320.8,701.0 L321.8,701.3 L322.6,701.6 L323.5,701.9 L324.3,702.2 L325.0,702.5 L325.7,702.9 L326.3,703.2 L326.9,703.6 L327.4,703.9 L327.9,704.3 L328.4,704.7 L328.7,705.1 L329.1,705.6 L329.4,706.0 L329.6,706.5 L329.8,707.0 L329.9,707.5 L330.0,708.1 Z" fill="#e6e3f1"/>
<path d="M182,660.2 L340,660.2 L327,705.5 Q262.25,715.5 195,705.5 Z" fill="#f0a7a7"/>
<clipPath id="b5"><path d="M182,660.2 L340,660.2 L327,705.5 Q262.25,715.5 195,705.5 Z"/></clipPath>
<path d="M177,682 Q262.25,694 345,682 L332,701 Q262.25,711 190,701 Z" fill="#f3b8b8" clip-path="url(#b5)"/>
<path d="M177,682 Q262.25,694 345,682 M332,701 Q262.25,711 190,701" fill="none" stroke="#f6c6c6" stroke-width="1" clip-path="url(#b5)"/>
<path d="M232,598 L292.5,598 A67,42 0 0 1 359.5,640 L359.5,652.2 A91,33 0 0 1 268.5,685.2 L256,685.2 A91,33 0 0 1 165,652.2 L165,640 A67,42 0 0 1 232,598 Z" fill="#e3e0ee"/>
<path d="M232,598 L292.5,598 A67,42 0 0 1 359.5,640 L359.5,646.2 A91,33 0 0 1 268.5,679.2 L256,679.2 A91,33 0 0 1 165,646.2 L165,640 A67,42 0 0 1 232,598 Z" fill="#f0ebf7"/>
<path d="M340.0,647.1 L340.0,651.3 L339.9,653.2 L339.8,654.7 L339.7,656.1 L339.5,657.2 L339.2,658.3 L338.9,659.3 L338.6,660.2 L338.2,661.1 L337.8,661.9 L337.4,662.7 L336.9,663.4 L336.3,664.1 L335.7,664.8 L335.1,665.4 L334.4,666.0 L333.7,666.6 L332.9,667.2 L332.1,667.7 L331.3,668.2 L330.3,668.7 L329.4,669.2 L328.4,669.7 L327.3,670.1 L326.2,670.5 L325.0,670.9 L323.8,671.3 L322.6,671.7 L321.2,672.0 L319.9,672.3 L318.4,672.7 L316.9,673.0 L315.4,673.2 L313.7,673.5 L312.0,673.7 L310.3,674.0 L308.4,674.2 L306.4,674.4 L304.4,674.6 L302.3,674.7 L300.0,674.9 L297.6,675.0 L295.0,675.1 L292.3,675.2 L289.3,675.3 L286.1,675.4 L282.4,675.4 L278.2,675.5 L272.8,675.5 L261.3,675.5 L249.7,675.5 L244.3,675.5 L240.1,675.4 L236.4,675.4 L233.2,675.3 L230.2,675.2 L227.5,675.1 L224.9,675.0 L222.5,674.9 L220.2,674.7 L218.1,674.6 L216.1,674.4 L214.1,674.2 L212.2,674.0 L210.5,673.7 L208.8,673.5 L207.1,673.2 L205.6,673.0 L204.1,672.7 L202.6,672.3 L201.3,672.0 L199.9,671.7 L198.7,671.3 L197.5,670.9 L196.3,670.5 L195.2,670.1 L194.1,669.7 L193.1,669.2 L192.2,668.7 L191.2,668.2 L190.4,667.7 L189.6,667.2 L188.8,666.6 L188.1,666.0 L187.4,665.4 L186.8,664.8 L186.2,664.1 L185.6,663.4 L185.1,662.7 L184.7,661.9 L184.3,661.1 L183.9,660.2 L183.6,659.3 L183.3,658.3 L183.0,657.2 L182.8,656.1 L182.7,654.7 L182.6,653.2 L182.5,651.3 L182.5,647.1 L182.5,642.9 L182.6,641.0 L182.7,639.5 L182.8,638.1 L183.0,637.0 L183.3,635.9 L183.6,634.9 L183.9,634.0 L184.3,633.1 L184.7,632.3 L185.1,631.5 L185.6,630.8 L186.2,630.1 L186.8,629.4 L187.4,628.8 L188.1,628.2 L188.8,627.6 L189.6,627.0 L190.4,626.5 L191.2,626.0 L192.2,625.5 L193.1,625.0 L194.1,624.5 L195.2,624.1 L196.3,623.7 L197.5,623.3 L198.7,622.9 L199.9,622.5 L201.3,622.2 L202.6,621.9 L204.1,621.5 L205.6,621.2 L207.1,621.0 L208.8,620.7 L210.5,620.5 L212.2,620.2 L214.1,620.0 L216.1,619.8 L218.1,619.6 L220.2,619.5 L222.5,619.3 L224.9,619.2 L227.5,619.1 L230.2,619.0 L233.2,618.9 L236.4,618.8 L240.1,618.8 L244.3,618.7 L249.7,618.7 L261.2,618.7 L272.8,618.7 L278.2,618.7 L282.4,618.8 L286.1,618.8 L289.3,618.9 L292.3,619.0 L295.0,619.1 L297.6,619.2 L300.0,619.3 L302.3,619.5 L304.4,619.6 L306.4,619.8 L308.4,620.0 L310.3,620.2 L312.0,620.5 L313.7,620.7 L315.4,621.0 L316.9,621.2 L318.4,621.5 L319.9,621.9 L321.2,622.2 L322.6,622.5 L323.8,622.9 L325.0,623.3 L326.2,623.7 L327.3,624.1 L328.4,624.5 L329.4,625.0 L330.3,625.5 L331.3,626.0 L332.1,626.5 L332.9,627.0 L333.7,627.6 L334.4,628.2 L335.1,628.8 L335.7,629.4 L336.3,630.1 L336.9,630.8 L337.4,631.5 L337.8,632.3 L338.2,633.1 L338.6,634.0 L338.9,634.9 L339.2,635.9 L339.5,637.0 L339.7,638.1 L339.8,639.5 L339.9,641.0 L340.0,642.9 Z" fill="#f3f0fa"/>
<clipPath id="c6"><path d="M340.0,642.1 L340.0,646.3 L339.9,648.2 L339.8,649.7 L339.7,651.1 L339.5,652.2 L339.2,653.3 L338.9,654.3 L338.6,655.2 L338.2,656.1 L337.8,656.9 L337.4,657.7 L336.9,658.4 L336.3,659.1 L335.7,659.8 L335.1,660.4 L334.4,661.0 L333.7,661.6 L332.9,662.2 L332.1,662.7 L331.3,663.2 L330.3,663.7 L329.4,664.2 L328.4,664.7 L327.3,665.1 L326.2,665.5 L325.0,665.9 L323.8,666.3 L322.6,666.7 L321.2,667.0 L319.9,667.3 L318.4,667.7 L316.9,668.0 L315.4,668.2 L313.7,668.5 L312.0,668.7 L310.3,669.0 L308.4,669.2 L306.4,669.4 L304.4,669.6 L302.3,669.7 L300.0,669.9 L297.6,670.0 L295.0,670.1 L292.3,670.2 L289.3,670.3 L286.1,670.4 L282.4,670.4 L278.2,670.5 L272.8,670.5 L261.3,670.5 L249.7,670.5 L244.3,670.5 L240.1,670.4 L236.4,670.4 L233.2,670.3 L230.2,670.2 L227.5,670.1 L224.9,670.0 L222.5,669.9 L220.2,669.7 L218.1,669.6 L216.1,669.4 L214.1,669.2 L212.2,669.0 L210.5,668.7 L208.8,668.5 L207.1,668.2 L205.6,668.0 L204.1,667.7 L202.6,667.3 L201.3,667.0 L199.9,666.7 L198.7,666.3 L197.5,665.9 L196.3,665.5 L195.2,665.1 L194.1,664.7 L193.1,664.2 L192.2,663.7 L191.2,663.2 L190.4,662.7 L189.6,662.2 L188.8,661.6 L188.1,661.0 L187.4,660.4 L186.8,659.8 L186.2,659.1 L185.6,658.4 L185.1,657.7 L184.7,656.9 L184.3,656.1 L183.9,655.2 L183.6,654.3 L183.3,653.3 L183.0,652.2 L182.8,651.1 L182.7,649.7 L182.6,648.2 L182.5,646.3 L182.5,642.1 L182.5,637.9 L182.6,636.0 L182.7,634.5 L182.8,633.1 L183.0,632.0 L183.3,630.9 L183.6,629.9 L183.9,629.0 L184.3,628.1 L184.7,627.3 L185.1,626.5 L185.6,625.8 L186.2,625.1 L186.8,624.4 L187.4,623.8 L188.1,623.2 L188.8,622.6 L189.6,622.0 L190.4,621.5 L191.2,621.0 L192.2,620.5 L193.1,620.0 L194.1,619.5 L195.2,619.1 L196.3,618.7 L197.5,618.3 L198.7,617.9 L199.9,617.5 L201.3,617.2 L202.6,616.9 L204.1,616.5 L205.6,616.2 L207.1,616.0 L208.8,615.7 L210.5,615.5 L212.2,615.2 L214.1,615.0 L216.1,614.8 L218.1,614.6 L220.2,614.5 L222.5,614.3 L224.9,614.2 L227.5,614.1 L230.2,614.0 L233.2,613.9 L236.4,613.8 L240.1,613.8 L244.3,613.7 L249.7,613.7 L261.2,613.7 L272.8,613.7 L278.2,613.7 L282.4,613.8 L286.1,613.8 L289.3,613.9 L292.3,614.0 L295.0,614.1 L297.6,614.2 L300.0,614.3 L302.3,614.5 L304.4,614.6 L306.4,614.8 L308.4,615.0 L310.3,615.2 L312.0,615.5 L313.7,615.7 L315.4,616.0 L316.9,616.2 L318.4,616.5 L319.9,616.9 L321.2,617.2 L322.6,617.5 L323.8,617.9 L325.0,618.3 L326.2,618.7 L327.3,619.1 L328.4,619.5 L329.4,620.0 L330.3,620.5 L331.3,621.0 L332.1,621.5 L332.9,622.0 L333.7,622.6 L334.4,623.2 L335.1,623.8 L335.7,624.4 L336.3,625.1 L336.9,625.8 L337.4,626.5 L337.8,627.3 L338.2,628.1 L338.6,629.0 L338.9,629.9 L339.2,630.9 L339.5,632.0 L339.7,633.1 L339.8,634.5 L339.9,636.0 L340.0,637.9 Z"/></clipPath>
<path d="M340.0,642.1 L340.0,646.3 L339.9,648.2 L339.8,649.7 L339.7,651.1 L339.5,652.2 L339.2,653.3 L338.9,654.3 L338.6,655.2 L338.2,656.1 L337.8,656.9 L337.4,657.7 L336.9,658.4 L336.3,659.1 L335.7,659.8 L335.1,660.4 L334.4,661.0 L333.7,661.6 L332.9,662.2 L332.1,662.7 L331.3,663.2 L330.3,663.7 L329.4,664.2 L328.4,664.7 L327.3,665.1 L326.2,665.5 L325.0,665.9 L323.8,666.3 L322.6,666.7 L321.2,667.0 L319.9,667.3 L318.4,667.7 L316.9,668.0 L315.4,668.2 L313.7,668.5 L312.0,668.7 L310.3,669.0 L308.4,669.2 L306.4,669.4 L304.4,669.6 L302.3,669.7 L300.0,669.9 L297.6,670.0 L295.0,670.1 L292.3,670.2 L289.3,670.3 L286.1,670.4 L282.4,670.4 L278.2,670.5 L272.8,670.5 L261.3,670.5 L249.7,670.5 L244.3,670.5 L240.1,670.4 L236.4,670.4 L233.2,670.3 L230.2,670.2 L227.5,670.1 L224.9,670.0 L222.5,669.9 L220.2,669.7 L218.1,669.6 L216.1,669.4 L214.1,669.2 L212.2,669.0 L210.5,668.7 L208.8,668.5 L207.1,668.2 L205.6,668.0 L204.1,667.7 L202.6,667.3 L201.3,667.0 L199.9,666.7 L198.7,666.3 L197.5,665.9 L196.3,665.5 L195.2,665.1 L194.1,664.7 L193.1,664.2 L192.2,663.7 L191.2,663.2 L190.4,662.7 L189.6,662.2 L188.8,661.6 L188.1,661.0 L187.4,660.4 L186.8,659.8 L186.2,659.1 L185.6,658.4 L185.1,657.7 L184.7,656.9 L184.3,656.1 L183.9,655.2 L183.6,654.3 L183.3,653.3 L183.0,652.2 L182.8,651.1 L182.7,649.7 L182.6,648.2 L182.5,646.3 L182.5,642.1 L182.5,637.9 L182.6,636.0 L182.7,634.5 L182.8,633.1 L183.0,632.0 L183.3,630.9 L183.6,629.9 L183.9,629.0 L184.3,628.1 L184.7,627.3 L185.1,626.5 L185.6,625.8 L186.2,625.1 L186.8,624.4 L187.4,623.8 L188.1,623.2 L188.8,622.6 L189.6,622.0 L190.4,621.5 L191.2,621.0 L192.2,620.5 L193.1,620.0 L194.1,619.5 L195.2,619.1 L196.3,618.7 L197.5,618.3 L198.7,617.9 L199.9,617.5 L201.3,617.2 L202.6,616.9 L204.1,616.5 L205.6,616.2 L207.1,616.0 L208.8,615.7 L210.5,615.5 L212.2,615.2 L214.1,615.0 L216.1,614.8 L218.1,614.6 L220.2,614.5 L222.5,614.3 L224.9,614.2 L227.5,614.1 L230.2,614.0 L233.2,613.9 L236.4,613.8 L240.1,613.8 L244.3,613.7 L249.7,613.7 L261.2,613.7 L272.8,613.7 L278.2,613.7 L282.4,613.8 L286.1,613.8 L289.3,613.9 L292.3,614.0 L295.0,614.1 L297.6,614.2 L300.0,614.3 L302.3,614.5 L304.4,614.6 L306.4,614.8 L308.4,615.0 L310.3,615.2 L312.0,615.5 L313.7,615.7 L315.4,616.0 L316.9,616.2 L318.4,616.5 L319.9,616.9 L321.2,617.2 L322.6,617.5 L323.8,617.9 L325.0,618.3 L326.2,618.7 L327.3,619.1 L328.4,619.5 L329.4,620.0 L330.3,620.5 L331.3,621.0 L332.1,621.5 L332.9,622.0 L333.7,622.6 L334.4,623.2 L335.1,623.8 L335.7,624.4 L336.3,625.1 L336.9,625.8 L337.4,626.5 L337.8,627.3 L338.2,628.1 L338.6,629.0 L338.9,629.9 L339.2,630.9 L339.5,632.0 L339.7,633.1 L339.8,634.5 L339.9,636.0 L340.0,637.9 Z" fill="#f5aaa8"/>
<path d="M340.0,647.1 L340.0,651.3 L339.9,653.2 L339.8,654.7 L339.7,656.1 L339.5,657.2 L339.2,658.3 L338.9,659.3 L338.6,660.2 L338.2,661.1 L337.8,661.9 L337.4,662.7 L336.9,663.4 L336.3,664.1 L335.7,664.8 L335.1,665.4 L334.4,666.0 L333.7,666.6 L332.9,667.2 L332.1,667.7 L331.3,668.2 L330.3,668.7 L329.4,669.2 L328.4,669.7 L327.3,670.1 L326.2,670.5 L325.0,670.9 L323.8,671.3 L322.6,671.7 L321.2,672.0 L319.9,672.3 L318.4,672.7 L316.9,673.0 L315.4,673.2 L313.7,673.5 L312.0,673.7 L310.3,674.0 L308.4,674.2 L306.4,674.4 L304.4,674.6 L302.3,674.7 L300.0,674.9 L297.6,675.0 L295.0,675.1 L292.3,675.2 L289.3,675.3 L286.1,675.4 L282.4,675.4 L278.2,675.5 L272.8,675.5 L261.3,675.5 L249.7,675.5 L244.3,675.5 L240.1,675.4 L236.4,675.4 L233.2,675.3 L230.2,675.2 L227.5,675.1 L224.9,675.0 L222.5,674.9 L220.2,674.7 L218.1,674.6 L216.1,674.4 L214.1,674.2 L212.2,674.0 L210.5,673.7 L208.8,673.5 L207.1,673.2 L205.6,673.0 L204.1,672.7 L202.6,672.3 L201.3,672.0 L199.9,671.7 L198.7,671.3 L197.5,670.9 L196.3,670.5 L195.2,670.1 L194.1,669.7 L193.1,669.2 L192.2,668.7 L191.2,668.2 L190.4,667.7 L189.6,667.2 L188.8,666.6 L188.1,666.0 L187.4,665.4 L186.8,664.8 L186.2,664.1 L185.6,663.4 L185.1,662.7 L184.7,661.9 L184.3,661.1 L183.9,660.2 L183.6,659.3 L183.3,658.3 L183.0,657.2 L182.8,656.1 L182.7,654.7 L182.6,653.2 L182.5,651.3 L182.5,647.1 L182.5,642.9 L182.6,641.0 L182.7,639.5 L182.8,638.1 L183.0,637.0 L183.3,635.9 L183.6,634.9 L183.9,634.0 L184.3,633.1 L184.7,632.3 L185.1,631.5 L185.6,630.8 L186.2,630.1 L186.8,629.4 L187.4,628.8 L188.1,628.2 L188.8,627.6 L189.6,627.0 L190.4,626.5 L191.2,626.0 L192.2,625.5 L193.1,625.0 L194.1,624.5 L195.2,624.1 L196.3,623.7 L197.5,623.3 L198.7,622.9 L199.9,622.5 L201.3,622.2 L202.6,621.9 L204.1,621.5 L205.6,621.2 L207.1,621.0 L208.8,620.7 L210.5,620.5 L212.2,620.2 L214.1,620.0 L216.1,619.8 L218.1,619.6 L220.2,619.5 L222.5,619.3 L224.9,619.2 L227.5,619.1 L230.2,619.0 L233.2,618.9 L236.4,618.8 L240.1,618.8 L244.3,618.7 L249.7,618.7 L261.2,618.7 L272.8,618.7 L278.2,618.7 L282.4,618.8 L286.1,618.8 L289.3,618.9 L292.3,619.0 L295.0,619.1 L297.6,619.2 L300.0,619.3 L302.3,619.5 L304.4,619.6 L306.4,619.8 L308.4,620.0 L310.3,620.2 L312.0,620.5 L313.7,620.7 L315.4,621.0 L316.9,621.2 L318.4,621.5 L319.9,621.9 L321.2,622.2 L322.6,622.5 L323.8,622.9 L325.0,623.3 L326.2,623.7 L327.3,624.1 L328.4,624.5 L329.4,625.0 L330.3,625.5 L331.3,626.0 L332.1,626.5 L332.9,627.0 L333.7,627.6 L334.4,628.2 L335.1,628.8 L335.7,629.4 L336.3,630.1 L336.9,630.8 L337.4,631.5 L337.8,632.3 L338.2,633.1 L338.6,634.0 L338.9,634.9 L339.2,635.9 L339.5,637.0 L339.7,638.1 L339.8,639.5 L339.9,641.0 L340.0,642.9 Z" fill="#f7b8b6" clip-path="url(#c6)"/>
<path d="M203.5,650.0 C206.5,646.0 210.7,644.0 216.0,644.0 L301.0,644.0 C306.3,644.0 310.7,646.0 314.1,650.1 L323.9,661.9 C327.3,666.0 329.0,670.0 329.0,674.0 L329.0,674.0 C329.0,678.0 326.3,680.0 321.0,680.0 L207.0,680.0 C201.7,680.0 199.0,677.3 199.0,672.0 L199.0,664.0 C199.0,658.7 200.5,654.0 203.5,650.0 Z" fill="#efe8f4" clip-path="url(#c6)"/>
<clipPath id="fc6"><path d="M203.5,650.0 C206.5,646.0 210.7,644.0 216.0,644.0 L301.0,644.0 C306.3,644.0 310.7,646.0 314.1,650.1 L323.9,661.9 C327.3,666.0 329.0,670.0 329.0,674.0 L329.0,674.0 C329.0,678.0 326.3,680.0 321.0,680.0 L207.0,680.0 C201.7,680.0 199.0,677.3 199.0,672.0 L199.0,664.0 C199.0,658.7 200.5,654.0 203.5,650.0 Z"/></clipPath>
<path d="M340.0,642.1 L340.0,646.3 L339.9,648.2 L339.8,649.7 L339.7,651.1 L339.5,652.2 L339.2,653.3 L338.9,654.3 L338.6,655.2 L338.2,656.1 L337.8,656.9 L337.4,657.7 L336.9,658.4 L336.3,659.1 L335.7,659.8 L335.1,660.4 L334.4,661.0 L333.7,661.6 L332.9,662.2 L332.1,662.7 L331.3,663.2 L330.3,663.7 L329.4,664.2 L328.4,664.7 L327.3,665.1 L326.2,665.5 L325.0,665.9 L323.8,666.3 L322.6,666.7 L321.2,667.0 L319.9,667.3 L318.4,667.7 L316.9,668.0 L315.4,668.2 L313.7,668.5 L312.0,668.7 L310.3,669.0 L308.4,669.2 L306.4,669.4 L304.4,669.6 L302.3,669.7 L300.0,669.9 L297.6,670.0 L295.0,670.1 L292.3,670.2 L289.3,670.3 L286.1,670.4 L282.4,670.4 L278.2,670.5 L272.8,670.5 L261.3,670.5 L249.7,670.5 L244.3,670.5 L240.1,670.4 L236.4,670.4 L233.2,670.3 L230.2,670.2 L227.5,670.1 L224.9,670.0 L222.5,669.9 L220.2,669.7 L218.1,669.6 L216.1,669.4 L214.1,669.2 L212.2,669.0 L210.5,668.7 L208.8,668.5 L207.1,668.2 L205.6,668.0 L204.1,667.7 L202.6,667.3 L201.3,667.0 L199.9,666.7 L198.7,666.3 L197.5,665.9 L196.3,665.5 L195.2,665.1 L194.1,664.7 L193.1,664.2 L192.2,663.7 L191.2,663.2 L190.4,662.7 L189.6,662.2 L188.8,661.6 L188.1,661.0 L187.4,660.4 L186.8,659.8 L186.2,659.1 L185.6,658.4 L185.1,657.7 L184.7,656.9 L184.3,656.1 L183.9,655.2 L183.6,654.3 L183.3,653.3 L183.0,652.2 L182.8,651.1 L182.7,649.7 L182.6,648.2 L182.5,646.3 L182.5,642.1 L182.5,637.9 L182.6,636.0 L182.7,634.5 L182.8,633.1 L183.0,632.0 L183.3,630.9 L183.6,629.9 L183.9,629.0 L184.3,628.1 L184.7,627.3 L185.1,626.5 L185.6,625.8 L186.2,625.1 L186.8,624.4 L187.4,623.8 L188.1,623.2 L188.8,622.6 L189.6,622.0 L190.4,621.5 L191.2,621.0 L192.2,620.5 L193.1,620.0 L194.1,619.5 L195.2,619.1 L196.3,618.7 L197.5,618.3 L198.7,617.9 L199.9,617.5 L201.3,617.2 L202.6,616.9 L204.1,616.5 L205.6,616.2 L207.1,616.0 L208.8,615.7 L210.5,615.5 L212.2,615.2 L214.1,615.0 L216.1,614.8 L218.1,614.6 L220.2,614.5 L222.5,614.3 L224.9,614.2 L227.5,614.1 L230.2,614.0 L233.2,613.9 L236.4,613.8 L240.1,613.8 L244.3,613.7 L249.7,613.7 L261.2,613.7 L272.8,613.7 L278.2,613.7 L282.4,613.8 L286.1,613.8 L289.3,613.9 L292.3,614.0 L295.0,614.1 L297.6,614.2 L300.0,614.3 L302.3,614.5 L304.4,614.6 L306.4,614.8 L308.4,615.0 L310.3,615.2 L312.0,615.5 L313.7,615.7 L315.4,616.0 L316.9,616.2 L318.4,616.5 L319.9,616.9 L321.2,617.2 L322.6,617.5 L323.8,617.9 L325.0,618.3 L326.2,618.7 L327.3,619.1 L328.4,619.5 L329.4,620.0 L330.3,620.5 L331.3,621.0 L332.1,621.5 L332.9,622.0 L333.7,622.6 L334.4,623.2 L335.1,623.8 L335.7,624.4 L336.3,625.1 L336.9,625.8 L337.4,626.5 L337.8,627.3 L338.2,628.1 L338.6,629.0 L338.9,629.9 L339.2,630.9 L339.5,632.0 L339.7,633.1 L339.8,634.5 L339.9,636.0 L340.0,637.9 Z" fill="none" stroke="#f3f0fa" stroke-width="1.4" clip-path="url(#fc6)"/>
<path d="M563.0,166.6 L563.0,167.8 L562.9,168.4 L562.8,169.0 L562.7,169.5 L562.6,170.0 L562.4,170.4 L562.2,170.8 L561.9,171.2 L561.6,171.6 L561.3,171.9 L560.9,172.2 L560.6,172.6 L560.1,172.9 L559.7,173.2 L559.2,173.5 L558.7,173.7 L558.1,174.0 L557.5,174.3 L556.9,174.5 L556.2,174.7 L555.5,175.0 L554.8,175.2 L554.0,175.4 L553.2,175.6 L552.4,175.8 L551.5,176.0 L550.6,176.2 L549.6,176.3 L548.7,176.5 L547.6,176.7 L546.6,176.8 L545.5,177.0 L544.3,177.1 L543.1,177.2 L541.9,177.3 L540.6,177.5 L539.3,177.6 L538.0,177.7 L536.5,177.7 L535.0,177.8 L533.5,177.9 L531.9,178.0 L530.2,178.0 L528.4,178.1 L526.5,178.1 L524.4,178.1 L522.2,178.2 L519.6,178.2 L516.6,178.2 L511.5,178.2 L506.4,178.2 L503.4,178.2 L500.8,178.2 L498.6,178.1 L496.5,178.1 L494.6,178.1 L492.8,178.0 L491.1,178.0 L489.5,177.9 L488.0,177.8 L486.5,177.7 L485.0,177.7 L483.7,177.6 L482.4,177.5 L481.1,177.3 L479.9,177.2 L478.7,177.1 L477.5,177.0 L476.4,176.8 L475.4,176.7 L474.3,176.5 L473.4,176.3 L472.4,176.2 L471.5,176.0 L470.6,175.8 L469.8,175.6 L469.0,175.4 L468.2,175.2 L467.5,175.0 L466.8,174.7 L466.1,174.5 L465.5,174.3 L464.9,174.0 L464.3,173.7 L463.8,173.5 L463.3,173.2 L462.9,172.9 L462.4,172.6 L462.1,172.2 L461.7,171.9 L461.4,171.6 L461.1,171.2 L460.8,170.8 L460.6,170.4 L460.4,170.0 L460.3,169.5 L460.2,169.0 L460.1,168.4 L460.0,167.8 L460.0,166.6 L460.0,165.4 L460.1,164.8 L460.2,164.2 L460.3,163.7 L460.4,163.2 L460.6,162.8 L460.8,162.4 L461.1,162.0 L461.4,161.6 L461.7,161.3 L462.1,161.0 L462.4,160.6 L462.9,160.3 L463.3,160.0 L463.8,159.7 L464.3,159.5 L464.9,159.2 L465.5,158.9 L466.1,158.7 L466.8,158.5 L467.5,158.2 L468.2,158.0 L469.0,157.8 L469.8,157.6 L470.6,157.4 L471.5,157.2 L472.4,157.0 L473.4,156.9 L474.3,156.7 L475.4,156.5 L476.4,156.4 L477.5,156.2 L478.7,156.1 L479.9,156.0 L481.1,155.9 L482.4,155.7 L483.7,155.6 L485.0,155.5 L486.5,155.5 L488.0,155.4 L489.5,155.3 L491.1,155.2 L492.8,155.2 L494.6,155.1 L496.5,155.1 L498.6,155.1 L500.8,155.0 L503.4,155.0 L506.4,155.0 L511.5,155.0 L516.6,155.0 L519.6,155.0 L522.2,155.0 L524.4,155.1 L526.5,155.1 L528.4,155.1 L530.2,155.2 L531.9,155.2 L533.5,155.3 L535.0,155.4 L536.5,155.5 L538.0,155.5 L539.3,155.6 L540.6,155.7 L541.9,155.9 L543.1,156.0 L544.3,156.1 L545.5,156.2 L546.6,156.4 L547.6,156.5 L548.7,156.7 L549.6,156.9 L550.6,157.0 L551.5,157.2 L552.4,157.4 L553.2,157.6 L554.0,157.8 L554.8,158.0 L555.5,158.2 L556.2,158.5 L556.9,158.7 L557.5,158.9 L558.1,159.2 L558.7,159.5 L559.2,159.7 L559.7,160.0 L560.1,160.3 L560.6,160.6 L560.9,161.0 L561.3,161.3 L561.6,161.6 L561.9,162.0 L562.2,162.4 L562.4,162.8 L562.6,163.2 L562.7,163.7 L562.8,164.2 L562.9,164.8 L563.0,165.4 Z" fill="#f1a6a6"/>
<path d="M568.0,162.2 L568.0,163.4 L567.9,164.1 L567.8,164.7 L567.7,165.2 L567.5,165.7 L567.3,166.1 L567.1,166.5 L566.8,166.9 L566.5,167.3 L566.1,167.6 L565.8,168.0 L565.3,168.3 L564.9,168.6 L564.4,168.9 L563.8,169.2 L563.2,169.5 L562.6,169.7 L562.0,170.0 L561.3,170.3 L560.6,170.5 L559.8,170.7 L559.0,171.0 L558.1,171.2 L557.3,171.4 L556.3,171.6 L555.4,171.8 L554.4,172.0 L553.3,172.1 L552.3,172.3 L551.1,172.5 L550.0,172.6 L548.8,172.7 L547.5,172.9 L546.2,173.0 L544.9,173.1 L543.5,173.2 L542.0,173.3 L540.5,173.4 L539.0,173.5 L537.3,173.6 L535.6,173.7 L533.8,173.8 L532.0,173.8 L530.0,173.9 L527.9,173.9 L525.7,173.9 L523.2,174.0 L520.4,174.0 L517.1,174.0 L511.5,174.0 L505.9,174.0 L502.6,174.0 L499.8,174.0 L497.3,173.9 L495.1,173.9 L493.0,173.9 L491.0,173.8 L489.2,173.8 L487.4,173.7 L485.7,173.6 L484.0,173.5 L482.5,173.4 L481.0,173.3 L479.5,173.2 L478.1,173.1 L476.8,173.0 L475.5,172.9 L474.2,172.7 L473.0,172.6 L471.9,172.5 L470.7,172.3 L469.7,172.1 L468.6,172.0 L467.6,171.8 L466.7,171.6 L465.7,171.4 L464.9,171.2 L464.0,171.0 L463.2,170.7 L462.4,170.5 L461.7,170.3 L461.0,170.0 L460.4,169.7 L459.8,169.5 L459.2,169.2 L458.6,168.9 L458.1,168.6 L457.7,168.3 L457.2,168.0 L456.9,167.6 L456.5,167.3 L456.2,166.9 L455.9,166.5 L455.7,166.1 L455.5,165.7 L455.3,165.2 L455.2,164.7 L455.1,164.1 L455.0,163.4 L455.0,162.3 L455.0,161.1 L455.1,160.4 L455.2,159.8 L455.3,159.3 L455.5,158.8 L455.7,158.4 L455.9,158.0 L456.2,157.6 L456.5,157.2 L456.9,156.9 L457.2,156.5 L457.7,156.2 L458.1,155.9 L458.6,155.6 L459.2,155.3 L459.8,155.0 L460.4,154.8 L461.0,154.5 L461.7,154.2 L462.4,154.0 L463.2,153.8 L464.0,153.5 L464.9,153.3 L465.7,153.1 L466.7,152.9 L467.6,152.7 L468.6,152.5 L469.7,152.4 L470.7,152.2 L471.9,152.0 L473.0,151.9 L474.2,151.8 L475.5,151.6 L476.8,151.5 L478.1,151.4 L479.5,151.3 L481.0,151.2 L482.5,151.1 L484.0,151.0 L485.7,150.9 L487.4,150.8 L489.2,150.7 L491.0,150.7 L493.0,150.6 L495.1,150.6 L497.3,150.6 L499.8,150.5 L502.6,150.5 L505.9,150.5 L511.5,150.5 L517.1,150.5 L520.4,150.5 L523.2,150.5 L525.7,150.6 L527.9,150.6 L530.0,150.6 L532.0,150.7 L533.8,150.7 L535.6,150.8 L537.3,150.9 L539.0,151.0 L540.5,151.1 L542.0,151.2 L543.5,151.3 L544.9,151.4 L546.2,151.5 L547.5,151.6 L548.8,151.8 L550.0,151.9 L551.1,152.0 L552.3,152.2 L553.3,152.4 L554.4,152.5 L555.4,152.7 L556.3,152.9 L557.3,153.1 L558.1,153.3 L559.0,153.5 L559.8,153.8 L560.6,154.0 L561.3,154.2 L562.0,154.5 L562.6,154.8 L563.2,155.0 L563.8,155.3 L564.4,155.6 L564.9,155.9 L565.3,156.2 L565.8,156.5 L566.1,156.9 L566.5,157.2 L566.8,157.6 L567.1,158.0 L567.3,158.4 L567.5,158.8 L567.7,159.3 L567.8,159.8 L567.9,160.4 L568.0,161.1 Z" fill="#e3e0ee"/>
<path d="M568.0,161.0 L568.0,162.0 L567.9,162.7 L567.8,163.2 L567.7,163.6 L567.5,164.0 L567.3,164.4 L567.1,164.8 L566.8,165.2 L566.5,165.5 L566.1,165.8 L565.8,166.1 L565.3,166.4 L564.9,166.7 L564.4,166.9 L563.8,167.2 L563.2,167.5 L562.6,167.7 L562.0,167.9 L561.3,168.2 L560.6,168.4 L559.8,168.6 L559.0,168.8 L558.1,169.0 L557.3,169.2 L556.3,169.3 L555.4,169.5 L554.4,169.7 L553.3,169.8 L552.3,170.0 L551.1,170.1 L550.0,170.3 L548.8,170.4 L547.5,170.5 L546.2,170.6 L544.9,170.7 L543.5,170.8 L542.0,170.9 L540.5,171.0 L539.0,171.1 L537.3,171.2 L535.6,171.2 L533.8,171.3 L532.0,171.3 L530.0,171.4 L527.9,171.4 L525.7,171.4 L523.2,171.5 L520.4,171.5 L517.1,171.5 L511.5,171.5 L505.9,171.5 L502.6,171.5 L499.8,171.5 L497.3,171.4 L495.1,171.4 L493.0,171.4 L491.0,171.3 L489.2,171.3 L487.4,171.2 L485.7,171.2 L484.0,171.1 L482.5,171.0 L481.0,170.9 L479.5,170.8 L478.1,170.7 L476.8,170.6 L475.5,170.5 L474.2,170.4 L473.0,170.3 L471.9,170.1 L470.7,170.0 L469.7,169.8 L468.6,169.7 L467.6,169.5 L466.7,169.3 L465.7,169.2 L464.9,169.0 L464.0,168.8 L463.2,168.6 L462.4,168.4 L461.7,168.2 L461.0,167.9 L460.4,167.7 L459.8,167.5 L459.2,167.2 L458.6,166.9 L458.1,166.7 L457.7,166.4 L457.2,166.1 L456.9,165.8 L456.5,165.5 L456.2,165.2 L455.9,164.8 L455.7,164.4 L455.5,164.0 L455.3,163.6 L455.2,163.2 L455.1,162.7 L455.0,162.0 L455.0,161.0 L455.0,160.0 L455.1,159.3 L455.2,158.8 L455.3,158.4 L455.5,158.0 L455.7,157.6 L455.9,157.2 L456.2,156.8 L456.5,156.5 L456.9,156.2 L457.2,155.9 L457.7,155.6 L458.1,155.3 L458.6,155.1 L459.2,154.8 L459.8,154.5 L460.4,154.3 L461.0,154.1 L461.7,153.8 L462.4,153.6 L463.2,153.4 L464.0,153.2 L464.9,153.0 L465.7,152.8 L466.7,152.7 L467.6,152.5 L468.6,152.3 L469.7,152.2 L470.7,152.0 L471.9,151.9 L473.0,151.7 L474.2,151.6 L475.5,151.5 L476.8,151.4 L478.1,151.3 L479.5,151.2 L481.0,151.1 L482.5,151.0 L484.0,150.9 L485.7,150.8 L487.4,150.8 L489.2,150.7 L491.0,150.7 L493.0,150.6 L495.1,150.6 L497.3,150.6 L499.8,150.5 L502.6,150.5 L505.9,150.5 L511.5,150.5 L517.1,150.5 L520.4,150.5 L523.2,150.5 L525.7,150.6 L527.9,150.6 L530.0,150.6 L532.0,150.7 L533.8,150.7 L535.6,150.8 L537.3,150.8 L539.0,150.9 L540.5,151.0 L542.0,151.1 L543.5,151.2 L544.9,151.3 L546.2,151.4 L547.5,151.5 L548.8,151.6 L550.0,151.7 L551.1,151.9 L552.3,152.0 L553.3,152.2 L554.4,152.3 L555.4,152.5 L556.3,152.7 L557.3,152.8 L558.1,153.0 L559.0,153.2 L559.8,153.4 L560.6,153.6 L561.3,153.8 L562.0,154.1 L562.6,154.3 L563.2,154.5 L563.8,154.8 L564.4,155.1 L564.9,155.3 L565.3,155.6 L565.8,155.9 L566.1,156.2 L566.5,156.5 L566.8,156.8 L567.1,157.2 L567.3,157.6 L567.5,158.0 L567.7,158.4 L567.8,158.8 L567.9,159.3 L568.0,160.0 Z" fill="#efecf6"/>
<path d="M473.3,99.5 L549,99.5 A36,30 0 0 1 585,129.5 L585,144 A28,24 0 0 1 557,168 L465.3,168 A28,24 0 0 1 437.3,144 L437.3,129.5 A36,30 0 0 1 473.3,99.5 Z" fill="#e3e0ee"/>
<path d="M473.3,99.5 L549,99.5 A36,30 0 0 1 585,129.5 L585,141.5 A28,24 0 0 1 557,165.5 L465.3,165.5 A28,24 0 0 1 437.3,141.5 L437.3,129.5 A36,30 0 0 1 473.3,99.5 Z" fill="#f0edf8"/>
<path d="M447.5,125.5 C447.8,110.2 455.7,102.5 471.0,102.5 L550.0,102.5 C565.3,102.5 573.4,110.2 574.2,125.5 L575.1,143.0 C575.9,158.3 568.6,166.0 553.3,166.0 L469.5,166.0 C454.2,166.0 446.7,158.3 447.0,143.0 Z" fill="#eee0ec"/>
<path d="M450.5,125.5 C450.8,112.2 457.7,105.5 471.0,105.5 L550.0,105.5 C563.3,105.5 570.4,112.2 571.1,125.5 L572.2,144.0 C572.9,157.3 566.6,164.0 553.3,164.0 L469.5,164.0 C456.2,164.0 449.7,157.3 450.0,144.0 Z" fill="#f4b0ae"/>
<path d="M459.9,125.2 C460.3,114.5 465.8,109.2 476.5,109.2 L549.5,109.2 C560.2,109.2 565.7,114.5 566.2,125.2 L567.0,144.3 C567.5,155.0 562.4,160.3 551.7,160.3 L474.5,160.3 C463.8,160.3 458.7,155.0 459.1,144.3 Z" fill="#ebe8f6"/>
<path d="M567.0,422.9 L567.0,424.2 L566.9,425.0 L566.8,425.6 L566.7,426.2 L566.5,426.7 L566.3,427.2 L566.1,427.6 L565.8,428.1 L565.5,428.5 L565.2,428.9 L564.8,429.2 L564.4,429.6 L563.9,429.9 L563.4,430.3 L562.9,430.6 L562.3,430.9 L561.7,431.2 L561.1,431.5 L560.4,431.8 L559.7,432.0 L558.9,432.3 L558.1,432.5 L557.3,432.8 L556.5,433.0 L555.6,433.2 L554.6,433.4 L553.6,433.6 L552.6,433.8 L551.5,434.0 L550.4,434.2 L549.3,434.4 L548.1,434.5 L546.9,434.7 L545.6,434.8 L544.3,434.9 L542.9,435.1 L541.5,435.2 L540.0,435.3 L538.5,435.4 L536.9,435.5 L535.2,435.6 L533.4,435.6 L531.6,435.7 L529.7,435.7 L527.6,435.8 L525.4,435.8 L523.0,435.9 L520.3,435.9 L517.0,435.9 L511.5,435.9 L506.0,435.9 L502.7,435.9 L500.0,435.9 L497.6,435.8 L495.4,435.8 L493.3,435.7 L491.4,435.7 L489.6,435.6 L487.8,435.6 L486.1,435.5 L484.5,435.4 L483.0,435.3 L481.5,435.2 L480.1,435.1 L478.7,434.9 L477.4,434.8 L476.1,434.7 L474.9,434.5 L473.7,434.4 L472.6,434.2 L471.5,434.0 L470.4,433.8 L469.4,433.6 L468.4,433.4 L467.4,433.2 L466.5,433.0 L465.7,432.8 L464.9,432.5 L464.1,432.3 L463.3,432.0 L462.6,431.8 L461.9,431.5 L461.3,431.2 L460.7,430.9 L460.1,430.6 L459.6,430.3 L459.1,429.9 L458.6,429.6 L458.2,429.2 L457.8,428.9 L457.5,428.5 L457.2,428.1 L456.9,427.6 L456.7,427.2 L456.5,426.7 L456.3,426.2 L456.2,425.6 L456.1,425.0 L456.0,424.2 L456.0,423.0 L456.0,421.7 L456.1,420.9 L456.2,420.3 L456.3,419.7 L456.5,419.2 L456.7,418.7 L456.9,418.3 L457.2,417.8 L457.5,417.4 L457.8,417.0 L458.2,416.7 L458.6,416.3 L459.1,416.0 L459.6,415.6 L460.1,415.3 L460.7,415.0 L461.3,414.7 L461.9,414.4 L462.6,414.1 L463.3,413.9 L464.1,413.6 L464.9,413.4 L465.7,413.1 L466.5,412.9 L467.4,412.7 L468.4,412.5 L469.4,412.3 L470.4,412.1 L471.5,411.9 L472.6,411.7 L473.7,411.5 L474.9,411.4 L476.1,411.2 L477.4,411.1 L478.7,411.0 L480.1,410.8 L481.5,410.7 L483.0,410.6 L484.5,410.5 L486.1,410.4 L487.8,410.3 L489.6,410.3 L491.4,410.2 L493.3,410.2 L495.4,410.1 L497.6,410.1 L500.0,410.0 L502.7,410.0 L506.0,410.0 L511.5,410.0 L517.0,410.0 L520.3,410.0 L523.0,410.0 L525.4,410.1 L527.6,410.1 L529.7,410.2 L531.6,410.2 L533.4,410.3 L535.2,410.3 L536.9,410.4 L538.5,410.5 L540.0,410.6 L541.5,410.7 L542.9,410.8 L544.3,411.0 L545.6,411.1 L546.9,411.2 L548.1,411.4 L549.3,411.5 L550.4,411.7 L551.5,411.9 L552.6,412.1 L553.6,412.3 L554.6,412.5 L555.6,412.7 L556.5,412.9 L557.3,413.1 L558.1,413.4 L558.9,413.6 L559.7,413.9 L560.4,414.1 L561.1,414.4 L561.7,414.7 L562.3,415.0 L562.9,415.3 L563.4,415.6 L563.9,416.0 L564.4,416.3 L564.8,416.7 L565.2,417.0 L565.5,417.4 L565.8,417.8 L566.1,418.3 L566.3,418.7 L566.5,419.2 L566.7,419.7 L566.8,420.3 L566.9,420.9 L567.0,421.7 Z" fill="#f1a6a6"/>
<path d="M572.0,418.6 L572.0,419.9 L571.9,420.7 L571.8,421.3 L571.7,421.9 L571.5,422.4 L571.3,422.9 L571.0,423.3 L570.7,423.8 L570.4,424.2 L570.0,424.6 L569.6,425.0 L569.1,425.3 L568.6,425.7 L568.1,426.0 L567.5,426.3 L566.9,426.7 L566.2,427.0 L565.5,427.2 L564.8,427.5 L564.0,427.8 L563.2,428.1 L562.3,428.3 L561.4,428.5 L560.5,428.8 L559.5,429.0 L558.5,429.2 L557.4,429.4 L556.3,429.6 L555.2,429.8 L554.0,430.0 L552.7,430.1 L551.4,430.3 L550.1,430.5 L548.7,430.6 L547.2,430.7 L545.7,430.9 L544.2,431.0 L542.6,431.1 L540.9,431.2 L539.2,431.3 L537.3,431.4 L535.4,431.4 L533.4,431.5 L531.3,431.5 L529.1,431.6 L526.7,431.6 L524.0,431.7 L521.1,431.7 L517.5,431.7 L511.5,431.7 L505.5,431.7 L501.9,431.7 L499.0,431.7 L496.3,431.6 L493.9,431.6 L491.7,431.5 L489.6,431.5 L487.6,431.4 L485.7,431.4 L483.8,431.3 L482.1,431.2 L480.4,431.1 L478.8,431.0 L477.3,430.9 L475.8,430.7 L474.3,430.6 L472.9,430.5 L471.6,430.3 L470.3,430.1 L469.0,430.0 L467.8,429.8 L466.7,429.6 L465.6,429.4 L464.5,429.2 L463.5,429.0 L462.5,428.8 L461.6,428.5 L460.7,428.3 L459.8,428.1 L459.0,427.8 L458.2,427.5 L457.5,427.2 L456.8,427.0 L456.1,426.7 L455.5,426.3 L454.9,426.0 L454.4,425.7 L453.9,425.3 L453.4,425.0 L453.0,424.6 L452.6,424.2 L452.3,423.8 L452.0,423.3 L451.7,422.9 L451.5,422.4 L451.3,421.9 L451.2,421.3 L451.1,420.7 L451.0,419.9 L451.0,418.6 L451.0,417.3 L451.1,416.5 L451.2,415.9 L451.3,415.3 L451.5,414.8 L451.7,414.3 L452.0,413.9 L452.3,413.4 L452.6,413.0 L453.0,412.6 L453.4,412.2 L453.9,411.9 L454.4,411.5 L454.9,411.2 L455.5,410.9 L456.1,410.5 L456.8,410.2 L457.5,410.0 L458.2,409.7 L459.0,409.4 L459.8,409.1 L460.7,408.9 L461.6,408.7 L462.5,408.4 L463.5,408.2 L464.5,408.0 L465.6,407.8 L466.7,407.6 L467.8,407.4 L469.0,407.2 L470.3,407.1 L471.6,406.9 L472.9,406.7 L474.3,406.6 L475.8,406.5 L477.3,406.3 L478.8,406.2 L480.4,406.1 L482.1,406.0 L483.8,405.9 L485.7,405.8 L487.6,405.8 L489.6,405.7 L491.7,405.7 L493.9,405.6 L496.3,405.6 L499.0,405.5 L501.9,405.5 L505.5,405.5 L511.5,405.5 L517.5,405.5 L521.1,405.5 L524.0,405.5 L526.7,405.6 L529.1,405.6 L531.3,405.7 L533.4,405.7 L535.4,405.8 L537.3,405.8 L539.2,405.9 L540.9,406.0 L542.6,406.1 L544.2,406.2 L545.7,406.3 L547.2,406.5 L548.7,406.6 L550.1,406.7 L551.4,406.9 L552.7,407.1 L554.0,407.2 L555.2,407.4 L556.3,407.6 L557.4,407.8 L558.5,408.0 L559.5,408.2 L560.5,408.4 L561.4,408.7 L562.3,408.9 L563.2,409.1 L564.0,409.4 L564.8,409.7 L565.5,410.0 L566.2,410.2 L566.9,410.5 L567.5,410.9 L568.1,411.2 L568.6,411.5 L569.1,411.9 L569.6,412.2 L570.0,412.6 L570.4,413.0 L570.7,413.4 L571.0,413.9 L571.3,414.3 L571.5,414.8 L571.7,415.3 L571.8,415.9 L571.9,416.5 L572.0,417.3 Z" fill="#e3e0ee"/>
<path d="M572.0,417.4 L572.0,418.5 L571.9,419.2 L571.8,419.8 L571.7,420.3 L571.5,420.8 L571.3,421.2 L571.0,421.6 L570.7,422.0 L570.4,422.4 L570.0,422.8 L569.6,423.1 L569.1,423.4 L568.6,423.8 L568.1,424.1 L567.5,424.3 L566.9,424.6 L566.2,424.9 L565.5,425.2 L564.8,425.4 L564.0,425.7 L563.2,425.9 L562.3,426.1 L561.4,426.3 L560.5,426.6 L559.5,426.8 L558.5,426.9 L557.4,427.1 L556.3,427.3 L555.2,427.5 L554.0,427.6 L552.7,427.8 L551.4,427.9 L550.1,428.1 L548.7,428.2 L547.2,428.3 L545.7,428.4 L544.2,428.5 L542.6,428.6 L540.9,428.7 L539.2,428.8 L537.3,428.9 L535.4,429.0 L533.4,429.0 L531.3,429.1 L529.1,429.1 L526.7,429.1 L524.0,429.2 L521.1,429.2 L517.5,429.2 L511.5,429.2 L505.5,429.2 L501.9,429.2 L499.0,429.2 L496.3,429.1 L493.9,429.1 L491.7,429.1 L489.6,429.0 L487.6,429.0 L485.7,428.9 L483.8,428.8 L482.1,428.7 L480.4,428.6 L478.8,428.5 L477.3,428.4 L475.8,428.3 L474.3,428.2 L472.9,428.1 L471.6,427.9 L470.3,427.8 L469.0,427.6 L467.8,427.5 L466.7,427.3 L465.6,427.1 L464.5,426.9 L463.5,426.8 L462.5,426.6 L461.6,426.3 L460.7,426.1 L459.8,425.9 L459.0,425.7 L458.2,425.4 L457.5,425.2 L456.8,424.9 L456.1,424.6 L455.5,424.3 L454.9,424.1 L454.4,423.8 L453.9,423.4 L453.4,423.1 L453.0,422.8 L452.6,422.4 L452.3,422.0 L452.0,421.6 L451.7,421.2 L451.5,420.8 L451.3,420.3 L451.2,419.8 L451.1,419.2 L451.0,418.5 L451.0,417.4 L451.0,416.2 L451.1,415.5 L451.2,414.9 L451.3,414.4 L451.5,413.9 L451.7,413.5 L452.0,413.1 L452.3,412.7 L452.6,412.3 L453.0,411.9 L453.4,411.6 L453.9,411.3 L454.4,410.9 L454.9,410.6 L455.5,410.4 L456.1,410.1 L456.8,409.8 L457.5,409.5 L458.2,409.3 L459.0,409.0 L459.8,408.8 L460.7,408.6 L461.6,408.4 L462.5,408.1 L463.5,407.9 L464.5,407.8 L465.6,407.6 L466.7,407.4 L467.8,407.2 L469.0,407.1 L470.3,406.9 L471.6,406.8 L472.9,406.6 L474.3,406.5 L475.8,406.4 L477.3,406.3 L478.8,406.2 L480.4,406.1 L482.1,406.0 L483.8,405.9 L485.7,405.8 L487.6,405.7 L489.6,405.7 L491.7,405.6 L493.9,405.6 L496.3,405.6 L499.0,405.5 L501.9,405.5 L505.5,405.5 L511.5,405.5 L517.5,405.5 L521.1,405.5 L524.0,405.5 L526.7,405.6 L529.1,405.6 L531.3,405.6 L533.4,405.7 L535.4,405.7 L537.3,405.8 L539.2,405.9 L540.9,406.0 L542.6,406.1 L544.2,406.2 L545.7,406.3 L547.2,406.4 L548.7,406.5 L550.1,406.6 L551.4,406.8 L552.7,406.9 L554.0,407.1 L555.2,407.2 L556.3,407.4 L557.4,407.6 L558.5,407.8 L559.5,407.9 L560.5,408.1 L561.4,408.4 L562.3,408.6 L563.2,408.8 L564.0,409.0 L564.8,409.3 L565.5,409.5 L566.2,409.8 L566.9,410.1 L567.5,410.4 L568.1,410.6 L568.6,410.9 L569.1,411.3 L569.6,411.6 L570.0,411.9 L570.4,412.3 L570.7,412.7 L571.0,413.1 L571.3,413.5 L571.5,413.9 L571.7,414.4 L571.8,414.9 L571.9,415.5 L572.0,416.2 Z" fill="#efecf6"/>
<path d="M473,348.9 L552,348.9 A40,35 0 0 1 592,383.9 L592,399.5 A32,28 0 0 1 560,427.5 L465,427.5 A32,28 0 0 1 433,399.5 L433,383.9 A40,35 0 0 1 473,348.9 Z" fill="#e3e0ee"/>
<path d="M473,348.9 L552,348.9 A40,35 0 0 1 592,383.9 L592,397.0 A32,28 0 0 1 560,425.0 L465,425.0 A32,28 0 0 1 433,397.0 L433,383.9 A40,35 0 0 1 473,348.9 Z" fill="#f0edf8"/>
<path d="M441.3,376.4 C442.4,359.8 451.3,351.5 468.0,351.5 L551.0,351.5 C567.7,351.5 576.5,359.8 577.4,376.5 L578.6,397.8 C579.5,414.5 571.7,422.8 555.0,422.8 L463.0,422.8 C446.3,422.8 438.6,414.5 439.7,397.9 Z" fill="#eee0ec"/>
<path d="M444.3,376.4 C445.4,361.8 453.3,354.5 468.0,354.5 L551.0,354.5 C565.7,354.5 573.4,361.8 574.3,376.5 L575.7,398.8 C576.6,413.5 569.7,420.8 555.0,420.8 L463.0,420.8 C448.3,420.8 441.6,413.5 442.7,398.9 Z" fill="#f4b0ae"/>
<path d="M454.1,377.7 C454.7,365.7 461.0,359.7 473.0,359.7 L550.0,359.7 C562.0,359.7 568.4,365.7 569.1,377.7 L570.4,398.8 C571.1,410.8 565.5,416.8 553.5,416.8 L470.0,416.8 C458.0,416.8 452.3,410.8 452.9,398.8 Z" fill="#ebe8f6"/>
<path d="M569.0,703.1 L569.0,704.4 L568.9,705.2 L568.8,705.8 L568.7,706.4 L568.5,706.9 L568.3,707.4 L568.0,707.8 L567.7,708.3 L567.4,708.7 L567.0,709.1 L566.6,709.5 L566.1,709.8 L565.6,710.2 L565.1,710.5 L564.5,710.8 L563.9,711.2 L563.2,711.5 L562.5,711.7 L561.7,712.0 L561.0,712.3 L560.1,712.6 L559.3,712.8 L558.4,713.0 L557.4,713.3 L556.4,713.5 L555.4,713.7 L554.3,713.9 L553.2,714.1 L552.0,714.3 L550.8,714.5 L549.5,714.6 L548.2,714.8 L546.9,715.0 L545.5,715.1 L544.0,715.2 L542.5,715.4 L541.0,715.5 L539.3,715.6 L537.6,715.7 L535.9,715.8 L534.0,715.9 L532.1,715.9 L530.1,716.0 L528.0,716.0 L525.7,716.1 L523.3,716.1 L520.6,716.2 L517.6,716.2 L514.1,716.2 L508.0,716.2 L501.9,716.2 L498.4,716.2 L495.4,716.2 L492.7,716.1 L490.3,716.1 L488.0,716.0 L485.9,716.0 L483.9,715.9 L482.0,715.9 L480.1,715.8 L478.4,715.7 L476.7,715.6 L475.0,715.5 L473.5,715.4 L472.0,715.2 L470.5,715.1 L469.1,715.0 L467.8,714.8 L466.5,714.6 L465.2,714.5 L464.0,714.3 L462.8,714.1 L461.7,713.9 L460.6,713.7 L459.6,713.5 L458.6,713.3 L457.6,713.0 L456.7,712.8 L455.9,712.6 L455.0,712.3 L454.3,712.0 L453.5,711.7 L452.8,711.5 L452.1,711.2 L451.5,710.8 L450.9,710.5 L450.4,710.2 L449.9,709.8 L449.4,709.5 L449.0,709.1 L448.6,708.7 L448.3,708.3 L448.0,707.8 L447.7,707.4 L447.5,706.9 L447.3,706.4 L447.2,705.8 L447.1,705.2 L447.0,704.4 L447.0,703.1 L447.0,701.8 L447.1,701.0 L447.2,700.4 L447.3,699.8 L447.5,699.3 L447.7,698.8 L448.0,698.4 L448.3,697.9 L448.6,697.5 L449.0,697.1 L449.4,696.7 L449.9,696.4 L450.4,696.0 L450.9,695.7 L451.5,695.4 L452.1,695.0 L452.8,694.7 L453.5,694.5 L454.3,694.2 L455.0,693.9 L455.9,693.6 L456.7,693.4 L457.6,693.2 L458.6,692.9 L459.6,692.7 L460.6,692.5 L461.7,692.3 L462.8,692.1 L464.0,691.9 L465.2,691.7 L466.5,691.6 L467.8,691.4 L469.1,691.2 L470.5,691.1 L472.0,691.0 L473.5,690.8 L475.0,690.7 L476.7,690.6 L478.4,690.5 L480.1,690.4 L482.0,690.3 L483.9,690.3 L485.9,690.2 L488.0,690.2 L490.3,690.1 L492.7,690.1 L495.4,690.0 L498.4,690.0 L501.9,690.0 L508.0,690.0 L514.1,690.0 L517.6,690.0 L520.6,690.0 L523.3,690.1 L525.7,690.1 L528.0,690.2 L530.1,690.2 L532.1,690.3 L534.0,690.3 L535.9,690.4 L537.6,690.5 L539.3,690.6 L541.0,690.7 L542.5,690.8 L544.0,691.0 L545.5,691.1 L546.9,691.2 L548.2,691.4 L549.5,691.6 L550.8,691.7 L552.0,691.9 L553.2,692.1 L554.3,692.3 L555.4,692.5 L556.4,692.7 L557.4,692.9 L558.4,693.2 L559.3,693.4 L560.1,693.6 L561.0,693.9 L561.7,694.2 L562.5,694.5 L563.2,694.7 L563.9,695.0 L564.5,695.4 L565.1,695.7 L565.6,696.0 L566.1,696.4 L566.6,696.7 L567.0,697.1 L567.4,697.5 L567.7,697.9 L568.0,698.4 L568.3,698.8 L568.5,699.3 L568.7,699.8 L568.8,700.4 L568.9,701.0 L569.0,701.8 Z" fill="#f1a6a6"/>
<path d="M574.0,698.8 L574.0,700.1 L573.9,700.8 L573.8,701.5 L573.7,702.1 L573.5,702.6 L573.2,703.1 L572.9,703.6 L572.6,704.0 L572.2,704.4 L571.8,704.8 L571.4,705.2 L570.9,705.6 L570.3,705.9 L569.7,706.2 L569.1,706.6 L568.4,706.9 L567.7,707.2 L567.0,707.5 L566.2,707.8 L565.3,708.0 L564.4,708.3 L563.5,708.6 L562.5,708.8 L561.5,709.0 L560.4,709.3 L559.3,709.5 L558.1,709.7 L556.9,709.9 L555.6,710.1 L554.3,710.3 L553.0,710.4 L551.5,710.6 L550.1,710.7 L548.6,710.9 L547.0,711.0 L545.4,711.1 L543.7,711.3 L541.9,711.4 L540.1,711.5 L538.2,711.6 L536.2,711.6 L534.1,711.7 L531.9,711.8 L529.6,711.8 L527.2,711.9 L524.5,711.9 L521.7,712.0 L518.4,712.0 L514.6,712.0 L508.0,712.0 L501.4,712.0 L497.6,712.0 L494.3,712.0 L491.5,711.9 L488.8,711.9 L486.4,711.8 L484.1,711.8 L481.9,711.7 L479.8,711.6 L477.8,711.6 L475.9,711.5 L474.1,711.4 L472.3,711.3 L470.6,711.1 L469.0,711.0 L467.4,710.9 L465.9,710.7 L464.5,710.6 L463.0,710.4 L461.7,710.3 L460.4,710.1 L459.1,709.9 L457.9,709.7 L456.7,709.5 L455.6,709.3 L454.5,709.0 L453.5,708.8 L452.5,708.6 L451.6,708.3 L450.7,708.0 L449.8,707.8 L449.0,707.5 L448.3,707.2 L447.6,706.9 L446.9,706.6 L446.3,706.2 L445.7,705.9 L445.1,705.6 L444.6,705.2 L444.2,704.8 L443.8,704.4 L443.4,704.0 L443.1,703.6 L442.8,703.1 L442.5,702.6 L442.3,702.1 L442.2,701.5 L442.1,700.8 L442.0,700.1 L442.0,698.8 L442.0,697.4 L442.1,696.7 L442.2,696.0 L442.3,695.4 L442.5,694.9 L442.8,694.4 L443.1,693.9 L443.4,693.5 L443.8,693.1 L444.2,692.7 L444.6,692.3 L445.1,691.9 L445.7,691.6 L446.3,691.3 L446.9,690.9 L447.6,690.6 L448.3,690.3 L449.0,690.0 L449.8,689.7 L450.7,689.5 L451.6,689.2 L452.5,688.9 L453.5,688.7 L454.5,688.5 L455.6,688.2 L456.7,688.0 L457.9,687.8 L459.1,687.6 L460.4,687.4 L461.7,687.2 L463.0,687.1 L464.5,686.9 L465.9,686.8 L467.4,686.6 L469.0,686.5 L470.6,686.4 L472.3,686.2 L474.1,686.1 L475.9,686.0 L477.8,685.9 L479.8,685.9 L481.9,685.8 L484.1,685.7 L486.4,685.7 L488.8,685.6 L491.5,685.6 L494.3,685.5 L497.6,685.5 L501.4,685.5 L508.0,685.5 L514.6,685.5 L518.4,685.5 L521.7,685.5 L524.5,685.6 L527.2,685.6 L529.6,685.7 L531.9,685.7 L534.1,685.8 L536.2,685.9 L538.2,685.9 L540.1,686.0 L541.9,686.1 L543.7,686.2 L545.4,686.4 L547.0,686.5 L548.6,686.6 L550.1,686.8 L551.5,686.9 L553.0,687.1 L554.3,687.2 L555.6,687.4 L556.9,687.6 L558.1,687.8 L559.3,688.0 L560.4,688.2 L561.5,688.5 L562.5,688.7 L563.5,688.9 L564.4,689.2 L565.3,689.5 L566.2,689.7 L567.0,690.0 L567.7,690.3 L568.4,690.6 L569.1,690.9 L569.7,691.3 L570.3,691.6 L570.9,691.9 L571.4,692.3 L571.8,692.7 L572.2,693.1 L572.6,693.5 L572.9,693.9 L573.2,694.4 L573.5,694.9 L573.7,695.4 L573.8,696.0 L573.9,696.7 L574.0,697.4 Z" fill="#e3e0ee"/>
<path d="M574.0,697.5 L574.0,698.7 L573.9,699.4 L573.8,700.0 L573.7,700.5 L573.5,701.0 L573.2,701.4 L572.9,701.8 L572.6,702.2 L572.2,702.6 L571.8,703.0 L571.4,703.3 L570.9,703.7 L570.3,704.0 L569.7,704.3 L569.1,704.6 L568.4,704.9 L567.7,705.2 L567.0,705.4 L566.2,705.7 L565.3,705.9 L564.4,706.2 L563.5,706.4 L562.5,706.6 L561.5,706.8 L560.4,707.0 L559.3,707.2 L558.1,707.4 L556.9,707.6 L555.6,707.8 L554.3,707.9 L553.0,708.1 L551.5,708.2 L550.1,708.4 L548.6,708.5 L547.0,708.6 L545.4,708.7 L543.7,708.8 L541.9,708.9 L540.1,709.0 L538.2,709.1 L536.2,709.2 L534.1,709.2 L531.9,709.3 L529.6,709.4 L527.2,709.4 L524.5,709.4 L521.7,709.5 L518.4,709.5 L514.6,709.5 L508.0,709.5 L501.4,709.5 L497.6,709.5 L494.3,709.5 L491.5,709.4 L488.8,709.4 L486.4,709.4 L484.1,709.3 L481.9,709.2 L479.8,709.2 L477.8,709.1 L475.9,709.0 L474.1,708.9 L472.3,708.8 L470.6,708.7 L469.0,708.6 L467.4,708.5 L465.9,708.4 L464.5,708.2 L463.0,708.1 L461.7,707.9 L460.4,707.8 L459.1,707.6 L457.9,707.4 L456.7,707.2 L455.6,707.0 L454.5,706.8 L453.5,706.6 L452.5,706.4 L451.6,706.2 L450.7,705.9 L449.8,705.7 L449.0,705.4 L448.3,705.2 L447.6,704.9 L446.9,704.6 L446.3,704.3 L445.7,704.0 L445.1,703.7 L444.6,703.3 L444.2,703.0 L443.8,702.6 L443.4,702.2 L443.1,701.8 L442.8,701.4 L442.5,701.0 L442.3,700.5 L442.2,700.0 L442.1,699.4 L442.0,698.7 L442.0,697.5 L442.0,696.3 L442.1,695.6 L442.2,695.0 L442.3,694.5 L442.5,694.0 L442.8,693.6 L443.1,693.2 L443.4,692.8 L443.8,692.4 L444.2,692.0 L444.6,691.7 L445.1,691.3 L445.7,691.0 L446.3,690.7 L446.9,690.4 L447.6,690.1 L448.3,689.8 L449.0,689.6 L449.8,689.3 L450.7,689.1 L451.6,688.8 L452.5,688.6 L453.5,688.4 L454.5,688.2 L455.6,688.0 L456.7,687.8 L457.9,687.6 L459.1,687.4 L460.4,687.2 L461.7,687.1 L463.0,686.9 L464.5,686.8 L465.9,686.6 L467.4,686.5 L469.0,686.4 L470.6,686.3 L472.3,686.2 L474.1,686.1 L475.9,686.0 L477.8,685.9 L479.8,685.8 L481.9,685.8 L484.1,685.7 L486.4,685.6 L488.8,685.6 L491.5,685.6 L494.3,685.5 L497.6,685.5 L501.4,685.5 L508.0,685.5 L514.6,685.5 L518.4,685.5 L521.7,685.5 L524.5,685.6 L527.2,685.6 L529.6,685.6 L531.9,685.7 L534.1,685.8 L536.2,685.8 L538.2,685.9 L540.1,686.0 L541.9,686.1 L543.7,686.2 L545.4,686.3 L547.0,686.4 L548.6,686.5 L550.1,686.6 L551.5,686.8 L553.0,686.9 L554.3,687.1 L555.6,687.2 L556.9,687.4 L558.1,687.6 L559.3,687.8 L560.4,688.0 L561.5,688.2 L562.5,688.4 L563.5,688.6 L564.4,688.8 L565.3,689.1 L566.2,689.3 L567.0,689.6 L567.7,689.8 L568.4,690.1 L569.1,690.4 L569.7,690.7 L570.3,691.0 L570.9,691.3 L571.4,691.7 L571.8,692.0 L572.2,692.4 L572.6,692.8 L572.9,693.2 L573.2,693.6 L573.5,694.0 L573.7,694.5 L573.8,695.0 L573.9,695.6 L574.0,696.3 Z" fill="#efecf6"/>
<path d="M472.8,617.5 L537,617.5 A60,42 0 0 1 597,659.5 L597,676.5 A35,30 0 0 1 562,706.5 L447.8,706.5 A35,30 0 0 1 412.8,676.5 L412.8,659.5 A60,42 0 0 1 472.8,617.5 Z" fill="#e3e0ee"/>
<path d="M472.8,617.5 L537,617.5 A60,42 0 0 1 597,659.5 L597,674.0 A35,30 0 0 1 562,704.0 L447.8,704.0 A35,30 0 0 1 412.8,674.0 L412.8,659.5 A60,42 0 0 1 472.8,617.5 Z" fill="#f0edf8"/>
<path d="M427.0,647.9 C428.3,630.0 438.0,621.0 456.0,621.0 L553.0,621.0 C571.0,621.0 580.5,630.0 581.5,648.0 L583.0,674.5 C584.0,692.5 575.5,701.5 557.5,701.5 L450.0,701.5 C432.0,701.5 423.7,692.5 425.0,674.6 Z" fill="#eee0ec"/>
<path d="M430.1,647.9 C431.4,632.0 440.0,624.0 456.0,624.0 L553.0,624.0 C569.0,624.0 577.5,632.0 578.4,648.0 L580.1,675.5 C581.0,691.5 573.5,699.5 557.5,699.5 L450.0,699.5 C434.0,699.5 426.6,691.5 427.9,675.6 Z" fill="#f4b0ae"/>
<path d="M446.8,650.0 C447.6,636.7 454.7,630.0 468.0,630.0 L549.0,630.0 C562.3,630.0 569.4,636.7 570.1,650.0 L571.4,675.5 C572.1,688.8 565.8,695.5 552.5,695.5 L464.0,695.5 C450.7,695.5 444.4,688.8 445.2,675.5 Z" fill="#ebe8f6"/>
<ellipse cx="339.5" cy="352" rx="2" ry="1.7" fill="#ffffff"/>
<ellipse cx="170" cy="630.6" rx="2" ry="1.7" fill="#ffffff"/>
<ellipse cx="351" cy="632.5" rx="2" ry="1.7" fill="#ffffff"/>
<ellipse cx="583.8" cy="384.5" rx="2" ry="1.7" fill="#ffffff"/>
<ellipse cx="590" cy="656.7" rx="2" ry="1.7" fill="#ffffff"/>
<ellipse cx="327.5" cy="114.5" rx="2" ry="1.7" fill="#ffffff"/>
<g font-family="Liberation Sans, sans-serif" font-size="16" fill="#fff" stroke="#fff" stroke-width="3.4" stroke-linejoin="round">
<text x="187.8" y="62.5" textLength="120.1" lengthAdjust="spacingAndGlyphs">24.5cm/9.65in</text>
<text x="143.3" y="129.7" textLength="104.9" lengthAdjust="spacingAndGlyphs">23cm/9.06in</text>
<text x="196.2" y="225.9" textLength="103.4" lengthAdjust="spacingAndGlyphs">17cm/6.69in</text>
<text x="452.2" y="75.9" textLength="119.5" lengthAdjust="spacingAndGlyphs">24.5cm/9.65in</text>
<text x="401.7" y="140.7" textLength="103.5" lengthAdjust="spacingAndGlyphs">23cm/9.06in</text>
<text x="449.5" y="227.6" textLength="104.4" lengthAdjust="spacingAndGlyphs">20cm/7.87in</text>
<text x="193.7" y="302.3" textLength="130.0" lengthAdjust="spacingAndGlyphs">30.5cm/12.01in</text>
<text x="143.4" y="371.1" textLength="113.3" lengthAdjust="spacingAndGlyphs">28cm/11.02in</text>
<text x="198.2" y="475.3" textLength="104.6" lengthAdjust="spacingAndGlyphs">21cm/8.27in</text>
<text x="443.4" y="324.9" textLength="130.7" lengthAdjust="spacingAndGlyphs">30.5cm/12.01in</text>
<text x="393.4" y="389.8" textLength="113.1" lengthAdjust="spacingAndGlyphs">28cm/11.02in</text>
<text x="436.2" y="477.1" textLength="119.9" lengthAdjust="spacingAndGlyphs">24.5cm/9.65in</text>
<text x="188.5" y="585.2" textLength="130.5" lengthAdjust="spacingAndGlyphs">36.5cm/14.37in</text>
<text x="128.6" y="654.0" textLength="130.5" lengthAdjust="spacingAndGlyphs">33.5cm/13.19in</text>
<text x="207.2" y="750.1" textLength="104.0" lengthAdjust="spacingAndGlyphs">25cm/9.84in</text>
<text x="452.9" y="599.9" textLength="129.1" lengthAdjust="spacingAndGlyphs">36.5cm/14.37in</text>
<text x="391.6" y="664.8" textLength="129.0" lengthAdjust="spacingAndGlyphs">33.5cm/13.19in</text>
<text x="434.7" y="752.3" textLength="129.3" lengthAdjust="spacingAndGlyphs">29.5cm/11.61in</text>
<text transform="translate(363.2,94.0) rotate(90)" x="0" y="0" font-size="16.8" textLength="92.4" lengthAdjust="spacingAndGlyphs">9cm/3.54in</text>
<text transform="translate(606.4,101.3) rotate(90)" x="0" y="0" font-size="16.8" textLength="107.5" lengthAdjust="spacingAndGlyphs">3.5cm/1.38in</text>
<text transform="translate(365.0,333.0) rotate(90)" x="0" y="0" font-size="16.8" textLength="102.7" lengthAdjust="spacingAndGlyphs">11cm/4.33in</text>
<text transform="translate(608.3,350.6) rotate(90)" x="0" y="0" font-size="16.8" textLength="108.8" lengthAdjust="spacingAndGlyphs">4.5cm/1.77in</text>
<text transform="translate(365.8,612.2) rotate(90)" x="0" y="0" font-size="16.8" textLength="104.2" lengthAdjust="spacingAndGlyphs">13cm/5.12in</text>
<text transform="translate(616.4,625.6) rotate(90)" x="0" y="0" font-size="16.8" textLength="107.6" lengthAdjust="spacingAndGlyphs">5.5cm/2.17in</text>
</g>
<line x1="185" y1="74" x2="343.5" y2="74" stroke="#7c7c7c" stroke-width="2"/>
<line x1="258.1" y1="85.3" x2="258.1" y2="143" stroke="#333" stroke-opacity="0.68" stroke-width="2"/>
<line x1="199" y1="197.5" x2="329.8" y2="197.5" stroke="#5a5a5a" stroke-width="1.9"/>
<line x1="359.45" y1="104.2" x2="359.45" y2="184.2" stroke="#666" stroke-width="1.9"/>
<line x1="444.7" y1="86.5" x2="584" y2="86.5" stroke="#6e6e6e" stroke-width="2"/>
<line x1="512" y1="101.6" x2="512" y2="163" stroke="#333" stroke-opacity="0.68" stroke-width="2"/>
<line x1="447" y1="193.4" x2="566.9" y2="193.4" stroke="#4a4a4a" stroke-width="2"/>
<line x1="598.45" y1="123.6" x2="598.45" y2="169.7" stroke="#666" stroke-width="2"/>
<line x1="180.2" y1="312.75" x2="357.4" y2="312.75" stroke="#868686" stroke-width="2.2"/>
<line x1="262.2" y1="321" x2="262.2" y2="385.3" stroke="#333" stroke-opacity="0.68" stroke-width="2"/>
<line x1="191" y1="450.7" x2="326" y2="450.7" stroke="#2a2a2a" stroke-width="1.2"/>
<line x1="191.4" y1="450.7" x2="232.6" y2="450.7" stroke="#111" stroke-width="2.2"/>
<line x1="295" y1="450.7" x2="326" y2="450.7" stroke="#111" stroke-width="2.2"/>
<line x1="362.5" y1="346" x2="362.5" y2="437" stroke="#6e6e6e" stroke-width="1.9"/>
<line x1="440.6" y1="341.45" x2="591.5" y2="341.45" stroke="#5a5a5a" stroke-width="2"/>
<line x1="514.4" y1="350" x2="514.4" y2="417.4" stroke="#333" stroke-opacity="0.68" stroke-width="2"/>
<line x1="455" y1="445.4" x2="568" y2="445.4" stroke="#151515" stroke-width="2"/>
<line x1="603.45" y1="365.5" x2="603.45" y2="421.3" stroke="#707070" stroke-width="2"/>
<line x1="167.5" y1="590.45" x2="353.8" y2="590.45" stroke="#707070" stroke-width="1.8"/>
<line x1="265.3" y1="598.5" x2="265.3" y2="665.7" stroke="#333" stroke-opacity="0.68" stroke-width="2"/>
<line x1="187" y1="728.9" x2="329" y2="728.9" stroke="#888" stroke-width="2"/>
<line x1="364" y1="628.5" x2="364" y2="713" stroke="#8c8c8c" stroke-width="2"/>
<line x1="429.5" y1="610.3" x2="597" y2="610.3" stroke="#7a7a7a" stroke-width="2"/>
<line x1="508.9" y1="619" x2="508.9" y2="698.2" stroke="#333" stroke-opacity="0.68" stroke-width="2"/>
<line x1="438.6" y1="726.45" x2="567.4" y2="726.45" stroke="#5a5a5a" stroke-width="2"/>
<line x1="603.56" y1="647.8" x2="603.56" y2="711.1" stroke="#6a6a6a" stroke-width="2"/>
<g font-family="Liberation Sans, sans-serif" font-size="16" fill="#141414" stroke="#141414" stroke-width="0.35">
<text x="187.8" y="62.5" textLength="120.1" lengthAdjust="spacingAndGlyphs">24.5cm/9.65in</text>
<text x="143.3" y="129.7" textLength="104.9" lengthAdjust="spacingAndGlyphs">23cm/9.06in</text>
<text x="196.2" y="225.9" textLength="103.4" lengthAdjust="spacingAndGlyphs">17cm/6.69in</text>
<text x="452.2" y="75.9" textLength="119.5" lengthAdjust="spacingAndGlyphs">24.5cm/9.65in</text>
<text x="401.7" y="140.7" textLength="103.5" lengthAdjust="spacingAndGlyphs">23cm/9.06in</text>
<text x="449.5" y="227.6" textLength="104.4" lengthAdjust="spacingAndGlyphs">20cm/7.87in</text>
<text x="193.7" y="302.3" textLength="130.0" lengthAdjust="spacingAndGlyphs">30.5cm/12.01in</text>
<text x="143.4" y="371.1" textLength="113.3" lengthAdjust="spacingAndGlyphs">28cm/11.02in</text>
<text x="198.2" y="475.3" textLength="104.6" lengthAdjust="spacingAndGlyphs">21cm/8.27in</text>
<text x="443.4" y="324.9" textLength="130.7" lengthAdjust="spacingAndGlyphs">30.5cm/12.01in</text>
<text x="393.4" y="389.8" textLength="113.1" lengthAdjust="spacingAndGlyphs">28cm/11.02in</text>
<text x="436.2" y="477.1" textLength="119.9" lengthAdjust="spacingAndGlyphs">24.5cm/9.65in</text>
<text x="188.5" y="585.2" textLength="130.5" lengthAdjust="spacingAndGlyphs">36.5cm/14.37in</text>
<text x="128.6" y="654.0" textLength="130.5" lengthAdjust="spacingAndGlyphs">33.5cm/13.19in</text>
<text x="207.2" y="750.1" textLength="104.0" lengthAdjust="spacingAndGlyphs">25cm/9.84in</text>
<text x="452.9" y="599.9" textLength="129.1" lengthAdjust="spacingAndGlyphs">36.5cm/14.37in</text>
<text x="391.6" y="664.8" textLength="129.0" lengthAdjust="spacingAndGlyphs">33.5cm/13.19in</text>
<text x="434.7" y="752.3" textLength="129.3" lengthAdjust="spacingAndGlyphs">29.5cm/11.61in</text>
<text transform="translate(363.2,94.0) rotate(90)" x="0" y="0" font-size="16.8" textLength="92.4" lengthAdjust="spacingAndGlyphs">9cm/3.54in</text>
<text transform="translate(606.4,101.3) rotate(90)" x="0" y="0" font-size="16.8" textLength="107.5" lengthAdjust="spacingAndGlyphs">3.5cm/1.38in</text>
<text transform="translate(365.0,333.0) rotate(90)" x="0" y="0" font-size="16.8" textLength="102.7" lengthAdjust="spacingAndGlyphs">11cm/4.33in</text>
<text transform="translate(608.3,350.6) rotate(90)" x="0" y="0" font-size="16.8" textLength="108.8" lengthAdjust="spacingAndGlyphs">4.5cm/1.77in</text>
<text transform="translate(365.8,612.2) rotate(90)" x="0" y="0" font-size="16.8" textLength="104.2" lengthAdjust="spacingAndGlyphs">13cm/5.12in</text>
<text transform="translate(616.4,625.6) rotate(90)" x="0" y="0" font-size="16.8" textLength="107.6" lengthAdjust="spacingAndGlyphs">5.5cm/2.17in</text>
</g></svg></body></html>
